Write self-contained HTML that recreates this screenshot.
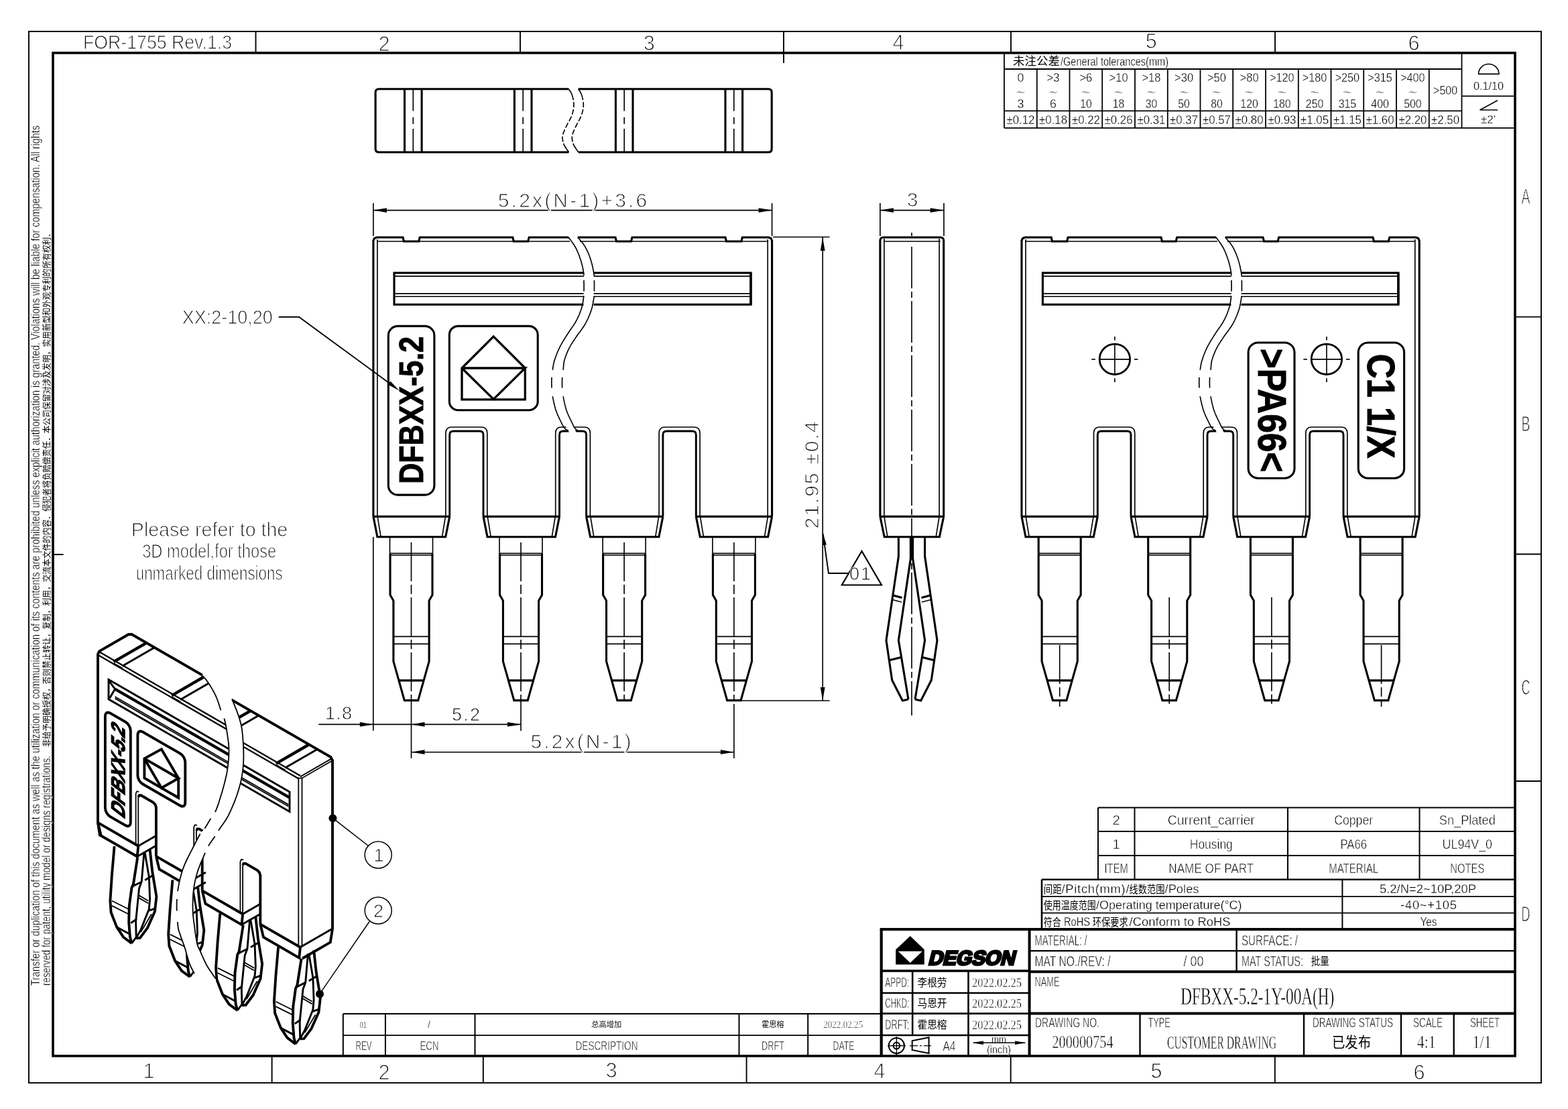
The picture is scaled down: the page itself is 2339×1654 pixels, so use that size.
<!DOCTYPE html>
<html><head><meta charset="utf-8"><title>DFBXX-5.2-1Y-00A(H)</title>
<style>
html,body{margin:0;padding:0;background:#fff}
svg{display:block;filter:grayscale(1)}
svg line,svg path,svg rect,svg circle,svg polyline{fill:none;stroke:#000;stroke-linecap:butt;stroke-linejoin:miter}
svg .f{fill:#000;stroke:none}
svg .w{fill:#fff;stroke:none}
svg defs path{fill:#000;stroke:inherit;stroke-width:inherit}
svg .c{stroke:none}
svg text{font-family:"Liberation Sans",sans-serif;fill:#000;stroke:#fff;paint-order:fill stroke}
svg text.s{font-family:"Liberation Serif",serif}
svg text.b{font-weight:bold;stroke:#000;stroke-width:1px;paint-order:normal}
svg text.cj{font-family:"Liberation Sans","Noto Sans CJK SC",sans-serif;stroke:none}
</style></head><body>
<svg width="2339" height="1654" viewBox="0 0 2339 1654">
<rect x="43" y="46.9" width="2256" height="1568.1" rx="0" stroke-width="1.9"/>
<rect x="79" y="78.9" width="2181" height="1496" rx="0" stroke-width="3.6"/>
<line x1="381.5" y1="46.9" x2="381.5" y2="78.9" stroke-width="1.9"/>
<line x1="776" y1="46.9" x2="776" y2="78.9" stroke-width="1.9"/>
<line x1="1169" y1="46.9" x2="1169" y2="78.9" stroke-width="1.9"/>
<line x1="1508" y1="46.9" x2="1508" y2="78.9" stroke-width="1.9"/>
<line x1="1902" y1="46.9" x2="1902" y2="78.9" stroke-width="1.9"/>
<line x1="1169" y1="78.9" x2="1169" y2="94" stroke-width="1.9"/>
<line x1="405.6" y1="1574.9" x2="405.6" y2="1614.9" stroke-width="1.9"/>
<line x1="720.8" y1="1574.9" x2="720.8" y2="1614.9" stroke-width="1.9"/>
<line x1="1113.6" y1="1574.9" x2="1113.6" y2="1614.9" stroke-width="1.9"/>
<line x1="1507.7" y1="1574.9" x2="1507.7" y2="1614.9" stroke-width="1.9"/>
<line x1="1901.8" y1="1574.9" x2="1901.8" y2="1614.9" stroke-width="1.9"/>
<line x1="2260" y1="472.6" x2="2299.1" y2="472.6" stroke-width="1.9"/>
<line x1="2260" y1="826.5" x2="2299.1" y2="826.5" stroke-width="1.9"/>
<line x1="2260" y1="1165" x2="2299.1" y2="1165" stroke-width="1.9"/>
<line x1="79" y1="827" x2="94.6" y2="827" stroke-width="1.9"/>
<text class="t" x="124" y="72.7" font-size="30.4" stroke-width="1.15" textLength="222" lengthAdjust="spacingAndGlyphs">FOR-1755 Rev.1.3</text>
<text class="t" x="573" y="75.8" font-size="30.7" stroke-width="1.15" text-anchor="middle">2</text>
<text class="t" x="968.3" y="74.8" font-size="30.7" stroke-width="1.15" text-anchor="middle">3</text>
<text class="t" x="1340" y="73.8" font-size="30.7" stroke-width="1.15" text-anchor="middle">4</text>
<text class="t" x="1717.4" y="71.8" font-size="30.7" stroke-width="1.15" text-anchor="middle">5</text>
<text class="t" x="2109" y="74.8" font-size="30.7" stroke-width="1.15" text-anchor="middle">6</text>
<text class="t" x="222" y="1607.8" font-size="30.7" stroke-width="1.15" text-anchor="middle">1</text>
<text class="t" x="573" y="1609.8" font-size="30.7" stroke-width="1.15" text-anchor="middle">2</text>
<text class="t" x="912" y="1606.8" font-size="30.7" stroke-width="1.15" text-anchor="middle">3</text>
<text class="t" x="1312" y="1607.8" font-size="30.7" stroke-width="1.15" text-anchor="middle">4</text>
<text class="t" x="1725" y="1607.8" font-size="30.7" stroke-width="1.15" text-anchor="middle">5</text>
<text class="t" x="2117" y="1609.8" font-size="30.7" stroke-width="1.15" text-anchor="middle">6</text>
<text class="t" x="2276" y="303.8" font-size="30.7" stroke-width="1.15" text-anchor="middle" textLength="13" lengthAdjust="spacingAndGlyphs">A</text>
<text class="t" x="2276" y="642.8" font-size="30.7" stroke-width="1.15" text-anchor="middle" textLength="13" lengthAdjust="spacingAndGlyphs">B</text>
<text class="t" x="2276" y="1035.8" font-size="30.7" stroke-width="1.15" text-anchor="middle" textLength="13" lengthAdjust="spacingAndGlyphs">C</text>
<text class="t" x="2276" y="1373.8" font-size="30.7" stroke-width="1.15" text-anchor="middle" textLength="13" lengthAdjust="spacingAndGlyphs">D</text>
<text class="t n" transform="translate(52.8 1470) rotate(-90)" x="0" y="6.2" font-size="17.9" stroke-width="0.3" textLength="1283" lengthAdjust="spacingAndGlyphs">Transfer or duplication of this document as well as the utilization or communication of its contents are prohibited unless explicit authorization is granted. Violations will be liable for compensation. All rights</text>
<text class="t n" transform="translate(69.2 1470) rotate(-90)" x="0" y="6.2" font-size="17.9" stroke-width="0.3" textLength="343" lengthAdjust="spacingAndGlyphs">reserved for patent, utility model or designs registrations.</text>
<path d="M848.4 132.7 H565.1 Q560.1 132.7 560.1 137.7 V222 Q560.1 227 565.1 227 H848.4" stroke-width="3.1"/>
<path d="M862.7 132.7 H1146.2 Q1151.2 132.7 1151.2 137.7 V222 Q1151.2 227 1146.2 227 H862.7" stroke-width="3.1"/>
<line x1="603.5" y1="132.7" x2="603.5" y2="227" stroke-width="3.1"/>
<line x1="629.1" y1="132.7" x2="629.1" y2="227" stroke-width="3.1"/>
<line x1="616.3" y1="133.7" x2="616.3" y2="165.6" stroke-width="1.65"/>
<line x1="616.3" y1="174.8" x2="616.3" y2="185.1" stroke-width="1.65"/>
<line x1="616.3" y1="192" x2="616.3" y2="226" stroke-width="1.65"/>
<line x1="767.4" y1="132.7" x2="767.4" y2="227" stroke-width="3.1"/>
<line x1="793" y1="132.7" x2="793" y2="227" stroke-width="3.1"/>
<line x1="780.2" y1="133.7" x2="780.2" y2="165.6" stroke-width="1.65"/>
<line x1="780.2" y1="174.8" x2="780.2" y2="185.1" stroke-width="1.65"/>
<line x1="780.2" y1="192" x2="780.2" y2="226" stroke-width="1.65"/>
<line x1="918.4" y1="132.7" x2="918.4" y2="227" stroke-width="3.1"/>
<line x1="944" y1="132.7" x2="944" y2="227" stroke-width="3.1"/>
<line x1="931.2" y1="133.7" x2="931.2" y2="165.6" stroke-width="1.65"/>
<line x1="931.2" y1="174.8" x2="931.2" y2="185.1" stroke-width="1.65"/>
<line x1="931.2" y1="192" x2="931.2" y2="226" stroke-width="1.65"/>
<line x1="1082" y1="132.7" x2="1082" y2="227" stroke-width="3.1"/>
<line x1="1107.6" y1="132.7" x2="1107.6" y2="227" stroke-width="3.1"/>
<line x1="1094.8" y1="133.7" x2="1094.8" y2="165.6" stroke-width="1.65"/>
<line x1="1094.8" y1="174.8" x2="1094.8" y2="185.1" stroke-width="1.65"/>
<line x1="1094.8" y1="192" x2="1094.8" y2="226" stroke-width="1.65"/>
<path d="M848.4 132.7 L848.6 133 L848.8 133.4 L849.1 133.8 L849.4 134.2 L849.7 134.7 L850.1 135.3 L850.4 135.8 L850.8 136.4 L851.2 137 L851.6 137.7 L851.9 138.4 L852.3 139.1 L852.6 139.8 L853 140.5 L853.2 141.2 L853.5 142 L853.7 142.8 L854 143.6 L854.2 144.5 L854.4 145.3 L854.7 146.3 L854.9 147.2 L855.1 148.2 L855.3 149.1" stroke-width="1.65"/>
<path d="M840.7 214 L840.9 214.7 L841.2 215.3 L841.5 216 L841.8 216.7 L842.2 217.4 L842.6 218.2 L843.1 218.9 L843.6 219.7 L844.1 220.5 L844.6 221.3 L845.1 222.1 L845.6 222.9 L846.1 223.6 L846.6 224.3 L847.1 225 L847.5 225.6 L847.8 226.1 L848.2 226.6 L848.4 227" stroke-width="1.65"/>
<path d="M855.7 152.1 L855.8 153.1 L855.9 154.1 L856 155.1 L856 156.1 L856 157 L856 157.9 L855.9 158.9 L855.8 159.8 L855.7 160.8 L855.6 161.7 L855.5 162.7 L855.3 163.6 L855.1 164.6 L854.9 165.5 L854.7 166.4 L854.4 167.4 L854.2 168.3 L853.9 169.2 L853.6 170.2 L853.3 171.1 L853 172 L852.7 172.9 L852.3 173.8 L851.9 174.7 L851.5 175.6 L851.1 176.5 L850.6 177.4 L850.1 178.3 L849.7 179.2 L849.2 180.1 L848.7 180.9 L848.2 181.8 L847.7 182.7 L847.3 183.5 L846.8 184.4 L846.4 185.2 L846 186 L845.6 186.8 L845.2 187.6 L844.8 188.4 L844.4 189.2 L844 190 L843.7 190.8 L843.3 191.6 L842.9 192.4 L842.5 193.1 L842.2 193.9 L841.9 194.6 L841.6 195.3 L841.3 196 L841 196.7 L840.7 197.4 L840.5 198 L840.3 198.6 L840.1 199.2 L839.9 199.7 L839.8 200.2 L839.6 200.7 L839.5 201.2 L839.4 201.7 L839.2 202.1 L839.2 202.6 L839.1 203 L839 203.5 L839 204 L839 204.4 L839 204.9 L839 205.5 L839 206 L839 206.6 L839.1 207.1 L839.2 207.7 L839.2 208.3 L839.3 208.9 L839.5 209.6 L839.6 210.2 L839.7 210.8 L839.9 211.4" stroke-width="1.65" stroke-dasharray="8 3"/>
<path d="M862.7 132.7 L862.9 133 L863.1 133.4 L863.4 133.8 L863.7 134.2 L864 134.7 L864.4 135.3 L864.7 135.8 L865.1 136.4 L865.5 137 L865.9 137.7 L866.2 138.4 L866.6 139.1 L866.9 139.8 L867.3 140.5 L867.5 141.2 L867.8 142 L868 142.8 L868.3 143.6 L868.5 144.5 L868.7 145.3 L869 146.3 L869.2 147.2 L869.4 148.2 L869.6 149.1" stroke-width="1.65"/>
<path d="M855 214 L855.2 214.7 L855.5 215.3 L855.8 216 L856.1 216.7 L856.5 217.4 L856.9 218.2 L857.4 218.9 L857.9 219.7 L858.4 220.5 L858.9 221.3 L859.4 222.1 L859.9 222.9 L860.4 223.6 L860.9 224.3 L861.4 225 L861.8 225.6 L862.1 226.1 L862.5 226.6 L862.7 227" stroke-width="1.65"/>
<path d="M870 152.1 L870.1 153.1 L870.2 154.1 L870.3 155.1 L870.3 156.1 L870.3 157 L870.3 157.9 L870.2 158.9 L870.1 159.8 L870 160.8 L869.9 161.7 L869.8 162.7 L869.6 163.6 L869.4 164.6 L869.2 165.5 L869 166.4 L868.7 167.4 L868.5 168.3 L868.2 169.2 L867.9 170.2 L867.6 171.1 L867.3 172 L867 172.9 L866.6 173.8 L866.2 174.7 L865.8 175.6 L865.4 176.5 L864.9 177.4 L864.4 178.3 L864 179.2 L863.5 180.1 L863 180.9 L862.5 181.8 L862 182.7 L861.6 183.5 L861.1 184.4 L860.7 185.2 L860.3 186 L859.9 186.8 L859.5 187.6 L859.1 188.4 L858.7 189.2 L858.3 190 L858 190.8 L857.6 191.6 L857.2 192.4 L856.8 193.1 L856.5 193.9 L856.2 194.6 L855.9 195.3 L855.6 196 L855.3 196.7 L855 197.4 L854.8 198 L854.6 198.6 L854.4 199.2 L854.2 199.7 L854 200.2 L853.9 200.7 L853.8 201.2 L853.7 201.7 L853.5 202.1 L853.5 202.6 L853.4 203 L853.3 203.5 L853.3 204 L853.3 204.4 L853.3 204.9 L853.3 205.5 L853.3 206 L853.3 206.6 L853.4 207.1 L853.5 207.7 L853.5 208.3 L853.6 208.9 L853.8 209.6 L853.9 210.2 L854 210.8 L854.2 211.4" stroke-width="1.65" stroke-dasharray="8 3"/>
<path d="M556.9 359 L558.4 355.5 L561.9 354 L601 354 L602.5 360 L624.7 360 L626.2 354 L764.8 354 L766.3 360 L787.7 360 L789.2 354 L848 354" stroke-width="3.1"/>
<path d="M861.8 354 L918 354 L919.5 360 L941.5 360 L943 354 L1082 354 L1083.5 360 L1105.9 360 L1107.4 354 L1146.6 354 L1150.1 355.5 L1151.6 359" stroke-width="3.1"/>
<line x1="562.9" y1="360" x2="850" y2="360" stroke-width="1.65"/>
<line x1="864.8" y1="360" x2="1145.2" y2="360" stroke-width="1.65"/>
<line x1="556.9" y1="358" x2="556.9" y2="770.4" stroke-width="3.1"/>
<line x1="1151.6" y1="358" x2="1151.6" y2="770.4" stroke-width="3.1"/>
<line x1="562.9" y1="357" x2="562.9" y2="770.4" stroke-width="1.65"/>
<line x1="1145.2" y1="357" x2="1145.2" y2="770.4" stroke-width="1.65"/>
<path d="M670.7 770.4 V648.5 Q670.7 643 676.2 643 H715.5 Q721 643 721 648.5 V770.4" stroke-width="2.9"/>
<path d="M664.9 770.4 V646 Q664.9 637 673.9 637 H717.8 Q726.8 637 726.8 646 V770.4" stroke-width="1.65"/>
<path d="M834.5 770.4 V648.5 Q834.5 643 840 643 H869.1 Q874.6 643 874.6 648.5 V770.4" stroke-width="2.9"/>
<path d="M828.7 770.4 V646 Q828.7 637 837.7 637 H871.4 Q880.4 637 880.4 646 V770.4" stroke-width="1.65"/>
<path d="M988.9 770.4 V648.5 Q988.9 643 994.4 643 H1032.8 Q1038.3 643 1038.3 648.5 V770.4" stroke-width="2.9"/>
<path d="M983.1 770.4 V646 Q983.1 637 992.1 637 H1035.1 Q1044.1 637 1044.1 646 V770.4" stroke-width="1.65"/>
<path d="M556.9 770.4 L562.9 800.7 L664.7 800.7 L670.7 770.4" stroke-width="3.1"/>
<line x1="556.9" y1="770.4" x2="670.7" y2="770.4" stroke-width="3.1"/>
<line x1="563.1" y1="770.4" x2="568.1" y2="800.7" stroke-width="1.65"/>
<line x1="664.5" y1="770.4" x2="659.5" y2="800.7" stroke-width="1.65"/>
<path d="M721 770.4 L727 800.7 L828.5 800.7 L834.5 770.4" stroke-width="3.1"/>
<line x1="721" y1="770.4" x2="834.5" y2="770.4" stroke-width="3.1"/>
<line x1="727.2" y1="770.4" x2="732.2" y2="800.7" stroke-width="1.65"/>
<line x1="828.3" y1="770.4" x2="823.3" y2="800.7" stroke-width="1.65"/>
<path d="M874.6 770.4 L880.6 800.7 L982.9 800.7 L988.9 770.4" stroke-width="3.1"/>
<line x1="874.6" y1="770.4" x2="988.9" y2="770.4" stroke-width="3.1"/>
<line x1="880.8" y1="770.4" x2="885.8" y2="800.7" stroke-width="1.65"/>
<line x1="982.7" y1="770.4" x2="977.7" y2="800.7" stroke-width="1.65"/>
<path d="M1038.3 770.4 L1044.3 800.7 L1145.6 800.7 L1151.6 770.4" stroke-width="3.1"/>
<line x1="1038.3" y1="770.4" x2="1151.6" y2="770.4" stroke-width="3.1"/>
<line x1="1044.5" y1="770.4" x2="1049.5" y2="800.7" stroke-width="1.65"/>
<line x1="1145.4" y1="770.4" x2="1140.4" y2="800.7" stroke-width="1.65"/>
<rect x="588" y="407" width="532.1" height="47.2" rx="0" stroke-width="3.1"/>
<line x1="1119.9" y1="407" x2="1119.9" y2="454.2" stroke-width="3.4"/>
<line x1="588" y1="411.8" x2="1120.1" y2="411.8" stroke-width="1.65"/>
<line x1="588" y1="437.8" x2="1120.1" y2="437.8" stroke-width="1.65"/>
<line x1="588" y1="442.2" x2="1120.1" y2="442.2" stroke-width="1.65"/>
<path class="w" d="M871.2 400 L885.6 400 L885.6 460 L870.4 460 Z"/>
<path class="w" d="M842.3 633 L853.3 633 L860.6 646.5 L850 646.5 Z"/>
<path d="M848 353.8 L848.4 354.3 L848.9 355 L849.4 355.7 L850 356.5 L850.7 357.4 L851.4 358.4 L852.1 359.4 L852.9 360.5 L853.7 361.6 L854.5 362.7 L855.3 363.8 L856.1 365 L856.8 366.2 L857.5 367.3 L858.2 368.5 L858.8 369.6 L859.4 370.7 L860 371.9 L860.5 373.1 L861.1 374.3 L861.6 375.5 L862.2 376.8 L862.7 378.1 L863.2 379.3 L863.7 380.6 L864.2 381.9 L864.6 383.2 L865.1 384.4 L865.5 385.7 L865.9 386.9 L866.3 388.1 L866.7 389.3 L867.1 390.5 L867.4 391.7 L867.7 392.8 L868 394 L868.3 395.2 L868.6 396.4 L868.9 397.5 L869.1 398.7 L869.4 399.8 L869.6 400.9 L869.8 402 L870 403.1 L870.1 404.1 L870.3 405.1 L870.5 406.1 L870.6 407 L870.7 407.9 L870.8 408.7 L870.9 409.4 L871 410.1 L871 410.7" stroke-width="1.65"/>
<path d="M871 418 L871 418.9 L871 419.8 L871 420.8 L871 421.9 L871.1 422.9 L871.1 424 L871.1 425.1 L871.1 426.2 L871.1 427.4 L871.1 428.5 L871.1 429.6 L871.1 430.7 L871.1 431.7 L871 432.7 L871 433.7 L871 434.6" stroke-width="1.65"/>
<path d="M870.8 441.2 L870.7 441.9 L870.7 442.6 L870.6 443.3 L870.5 444 L870.4 444.8 L870.3 445.6 L870.2 446.4 L870.1 447.3 L869.9 448.2 L869.8 449.1 L869.6 450 L869.5 451 L869.3 451.9 L869.1 452.9 L868.9 453.9 L868.7 454.9 L868.5 456 L868.2 457 L867.9 458 L867.7 459.1 L867.4 460.1 L867 461.2 L866.7 462.2 L866.3 463.3 L865.9 464.3 L865.5 465.4 L865.1 466.5 L864.7 467.6 L864.2 468.7 L863.8 469.8 L863.3 470.9 L862.8 472.1 L862.2 473.2 L861.7 474.3 L861.2 475.4 L860.6 476.6 L860 477.7 L859.4 478.8 L858.8 479.9 L858.2 481 L857.5 482.1 L856.8 483.2 L856.1 484.3 L855.4 485.4 L854.7 486.4 L853.9 487.5 L853.1 488.6 L852.4 489.7 L851.6 490.8 L850.8 491.9 L850 493 L849.3 494.2 L848.5 495.3 L847.7 496.4 L847 497.6 L846.3 498.8 L845.5 500 L844.7 501.2 L844 502.4 L843.2 503.6 L842.4 504.8 L841.6 506.1 L840.9 507.3 L840.1 508.6 L839.3 509.8 L838.6 511.1 L837.9 512.3 L837.2 513.6 L836.5 514.8 L835.8 516.1 L835.2 517.3 L834.6 518.5 L834 519.8 L833.4 521.1 L832.8 522.3 L832.3 523.6 L831.7 524.9 L831.2 526.2 L830.7 527.5 L830.2 528.7 L829.7 530 L829.3 531.2 L828.8 532.4 L828.4 533.6 L828 534.8 L827.7 535.9 L827.3 537 L827 538.1 L826.7 539.1 L826.4 540.1 L826.2 541.1 L825.9 542.1 L825.7 543.1 L825.6 544 L825.4 544.9 L825.2 545.9 L825.1 546.8 L824.9 547.6 L824.8 548.5 L824.7 549.3 L824.6 550.2 L824.4 551 L824.3 551.8" stroke-width="1.65"/>
<path d="M823 562.7 L823 563.6 L822.9 564.5 L822.9 565.4 L822.9 566.4 L822.9 567.3 L822.8 568.4 L822.8 569.4 L822.8 570.4 L822.8 571.5 L822.8 572.5 L822.9 573.5 L822.9 574.6 L822.9 575.6 L822.9 576.5 L823 577.5 L823 578.4" stroke-width="1.65"/>
<path d="M824.3 591.2 L824.5 592.3 L824.7 593.4 L825 594.6 L825.2 595.9 L825.5 597.2 L825.8 598.5 L826.1 599.9 L826.4 601.2 L826.7 602.6 L827.1 604 L827.4 605.4 L827.8 606.7 L828.1 608.1 L828.5 609.4 L828.9 610.7 L829.3 611.9 L829.7 613.1 L830.2 614.3 L830.6 615.5 L831.1 616.8 L831.6 618 L832.1 619.2 L832.6 620.3 L833.2 621.5 L833.7 622.7 L834.2 623.8 L834.7 624.9 L835.3 625.9 L835.7 626.9 L836.2 627.9 L836.7 628.8 L837.1 629.7 L837.5 630.5 L837.9 631.3 L838.3 632.1 L838.6 632.8 L839 633.4 L839.3 634.1 L839.6 634.7 L839.9 635.2 L840.3 635.8 L840.6 636.3 L840.9 636.8 L841.2 637.3 L841.5 637.7 L841.8 638.2 L842.2 638.6 L842.5 639 L842.9 639.4 L843.2 639.7 L843.6 640.1 L844 640.4 L844.4 640.6 L844.8 640.9 L845.2 641.1 L845.6 641.3 L846 641.5 L846.3 641.7 L846.7 641.9 L847 642 L847.3 642.1 L847.6 642.3 L847.8 642.4 L848 642.5" stroke-width="1.65"/>
<path d="M861.8 353.8 L862.2 354.3 L862.7 354.8 L863.2 355.5 L863.8 356.2 L864.5 357 L865.2 357.8 L865.9 358.7 L866.7 359.6 L867.5 360.5 L868.3 361.5 L869.1 362.5 L869.9 363.6 L870.6 364.6 L871.3 365.6 L872 366.6 L872.6 367.6 L873.2 368.6 L873.7 369.6 L874.3 370.6 L874.8 371.7 L875.4 372.8 L875.9 373.9 L876.4 375 L876.9 376.1 L877.4 377.2 L877.9 378.3 L878.4 379.5 L878.8 380.6 L879.2 381.8 L879.7 383 L880.1 384.1 L880.5 385.3 L880.9 386.5 L881.3 387.7 L881.7 389 L882 390.2 L882.4 391.5 L882.7 392.8 L883.1 394.1 L883.4 395.4 L883.7 396.7 L884 398 L884.3 399.3 L884.5 400.5 L884.8 401.7 L885 402.8 L885.2 403.9 L885.4 405 L885.6 406 L885.7 406.9 L885.8 407.8 L885.9 408.6 L886 409.4 L886.1 410.2 L886.2 411" stroke-width="1.65"/>
<path d="M886.4 418 L886.4 418.9 L886.5 419.9 L886.5 420.9 L886.5 422 L886.5 423 L886.5 424.1 L886.5 425.2 L886.5 426.3 L886.5 427.4 L886.5 428.5 L886.5 429.6 L886.5 430.6 L886.5 431.7 L886.5 432.7 L886.4 433.7 L886.4 434.6" stroke-width="1.65"/>
<path d="M886.1 441.7 L886 442.5 L886 443.2 L885.9 444 L885.8 444.8 L885.7 445.6 L885.5 446.5 L885.4 447.4 L885.2 448.3 L885.1 449.3 L884.9 450.2 L884.7 451.2 L884.6 452.2 L884.4 453.2 L884.2 454.3 L883.9 455.3 L883.7 456.4 L883.5 457.4 L883.2 458.5 L882.9 459.6 L882.6 460.7 L882.2 461.8 L881.9 463 L881.5 464.1 L881.1 465.2 L880.7 466.4 L880.2 467.6 L879.7 468.8 L879.3 470 L878.7 471.3 L878.2 472.5 L877.7 473.8 L877.1 475 L876.5 476.3 L875.9 477.5 L875.3 478.8 L874.6 480.1 L874 481.3 L873.3 482.6 L872.6 483.8 L871.9 485 L871.1 486.3 L870.3 487.5 L869.4 488.8 L868.5 490.1 L867.6 491.4 L866.7 492.6 L865.8 493.9 L864.8 495.2 L863.9 496.4 L863 497.6 L862.1 498.8 L861.2 500 L860.4 501.2 L859.6 502.4 L858.8 503.5 L858.1 504.6 L857.4 505.6 L856.7 506.7 L856 507.7 L855.3 508.7 L854.7 509.6 L854.1 510.6 L853.5 511.5 L852.9 512.5 L852.3 513.4 L851.7 514.4 L851.2 515.3 L850.6 516.3 L850.1 517.3 L849.5 518.3 L849 519.3 L848.5 520.4 L848 521.4 L847.4 522.5 L846.9 523.7 L846.4 524.8 L845.9 525.9 L845.5 527.1 L845 528.2 L844.6 529.4 L844.1 530.5 L843.7 531.6 L843.3 532.7 L843 533.8 L842.6 534.9 L842.3 536 L842 537 L841.7 538 L841.5 539 L841.3 540 L841.2 541 L841 542 L840.9 542.9 L840.8 543.9 L840.7 544.8 L840.6 545.8 L840.6 546.7 L840.5 547.6 L840.4 548.4 L840.4 549.3 L840.3 550.2 L840.2 551 L840.1 551.8" stroke-width="1.65"/>
<path d="M838.7 562.7 L838.7 563.6 L838.6 564.5 L838.6 565.4 L838.6 566.4 L838.5 567.3 L838.5 568.4 L838.5 569.4 L838.5 570.4 L838.5 571.5 L838.5 572.5 L838.5 573.5 L838.6 574.6 L838.6 575.6 L838.6 576.5 L838.7 577.5 L838.7 578.4" stroke-width="1.65"/>
<path d="M840.1 591.2 L840.3 592.3 L840.5 593.4 L840.8 594.6 L841 595.9 L841.3 597.2 L841.5 598.5 L841.8 599.9 L842.1 601.2 L842.5 602.6 L842.8 604 L843.1 605.4 L843.5 606.7 L843.8 608.1 L844.2 609.4 L844.6 610.7 L845 611.9 L845.4 613.1 L845.9 614.3 L846.3 615.5 L846.8 616.8 L847.4 618 L847.9 619.2 L848.4 620.4 L849 621.5 L849.5 622.7 L850 623.8 L850.6 624.9 L851.1 626 L851.6 627 L852 627.9 L852.5 628.8 L852.9 629.7 L853.3 630.5 L853.6 631.3 L854 632 L854.3 632.6 L854.6 633.3 L854.9 633.9 L855.2 634.4 L855.4 635 L855.7 635.5 L855.9 635.9 L856.2 636.4 L856.4 636.8 L856.7 637.3 L857 637.7 L857.2 638.1 L857.5 638.5 L857.8 638.9 L858.1 639.3 L858.4 639.6 L858.7 639.9 L859 640.2 L859.3 640.5 L859.6 640.8 L859.9 641 L860.2 641.3 L860.5 641.5 L860.8 641.7 L861 641.9 L861.3 642.1 L861.5 642.2 L861.6 642.4 L861.8 642.5" stroke-width="1.65"/>
<rect x="579.3" y="486.4" width="68.6" height="251.7" rx="14" stroke-width="3.1"/>
<text class="b" transform="translate(613.6 611.8) rotate(-90)" x="0" y="17.4" font-size="49.9" text-anchor="middle" textLength="220" lengthAdjust="spacingAndGlyphs">DFBXX-5.2</text>
<rect x="670.3" y="486.4" width="131.9" height="125.3" rx="13" stroke-width="3.1"/>
<path d="M736.2 501.9 L783.3 549 L783.3 595.9 L689 595.9 L689 549Z" stroke-width="3.3000000000000003"/>
<path d="M689 549 L783.3 549 L736.2 595.5 L689 549" stroke-width="3.3000000000000003"/>
<line x1="581.5" y1="800.7" x2="581.5" y2="825.4" stroke-width="1.65"/>
<line x1="645.5" y1="800.7" x2="645.5" y2="825.4" stroke-width="1.65"/>
<line x1="582" y1="825.4" x2="645" y2="825.4" stroke-width="1.65"/>
<line x1="582" y1="828" x2="645" y2="828" stroke-width="1.65"/>
<path d="M582 825.4 L582 887.4 L586.9 895.8 L586.9 986.3 L603.3 1044.6 L623.7 1044.6 L640.1 986.3 L640.1 895.8 L645 887.4 L645 825.4" stroke-width="3.1"/>
<line x1="586.9" y1="949.4" x2="640.1" y2="949.4" stroke-width="1.65"/>
<line x1="586.9" y1="960.4" x2="640.1" y2="960.4" stroke-width="1.65"/>
<line x1="594.9" y1="1014.9" x2="632.1" y2="1014.9" stroke-width="3.1"/>
<line x1="613.5" y1="809" x2="613.5" y2="1046" stroke-width="1.65" stroke-dasharray="58 5 14 5"/>
<line x1="745" y1="800.7" x2="745" y2="825.4" stroke-width="1.65"/>
<line x1="809" y1="800.7" x2="809" y2="825.4" stroke-width="1.65"/>
<line x1="745.5" y1="825.4" x2="808.5" y2="825.4" stroke-width="1.65"/>
<line x1="745.5" y1="828" x2="808.5" y2="828" stroke-width="1.65"/>
<path d="M745.5 825.4 L745.5 887.4 L750.4 895.8 L750.4 986.3 L766.8 1044.6 L787.2 1044.6 L803.6 986.3 L803.6 895.8 L808.5 887.4 L808.5 825.4" stroke-width="3.1"/>
<line x1="750.4" y1="949.4" x2="803.6" y2="949.4" stroke-width="1.65"/>
<line x1="750.4" y1="960.4" x2="803.6" y2="960.4" stroke-width="1.65"/>
<line x1="758.4" y1="1014.9" x2="795.6" y2="1014.9" stroke-width="3.1"/>
<line x1="777" y1="809" x2="777" y2="1046" stroke-width="1.65" stroke-dasharray="58 5 14 5"/>
<line x1="899.1" y1="800.7" x2="899.1" y2="825.4" stroke-width="1.65"/>
<line x1="963.1" y1="800.7" x2="963.1" y2="825.4" stroke-width="1.65"/>
<line x1="899.6" y1="825.4" x2="962.6" y2="825.4" stroke-width="1.65"/>
<line x1="899.6" y1="828" x2="962.6" y2="828" stroke-width="1.65"/>
<path d="M899.6 825.4 L899.6 887.4 L904.5 895.8 L904.5 986.3 L920.9 1044.6 L941.3 1044.6 L957.7 986.3 L957.7 895.8 L962.6 887.4 L962.6 825.4" stroke-width="3.1"/>
<line x1="904.5" y1="949.4" x2="957.7" y2="949.4" stroke-width="1.65"/>
<line x1="904.5" y1="960.4" x2="957.7" y2="960.4" stroke-width="1.65"/>
<line x1="912.5" y1="1014.9" x2="949.7" y2="1014.9" stroke-width="3.1"/>
<line x1="931.1" y1="809" x2="931.1" y2="1046" stroke-width="1.65" stroke-dasharray="58 5 14 5"/>
<line x1="1062.9" y1="800.7" x2="1062.9" y2="825.4" stroke-width="1.65"/>
<line x1="1126.9" y1="800.7" x2="1126.9" y2="825.4" stroke-width="1.65"/>
<line x1="1063.4" y1="825.4" x2="1126.4" y2="825.4" stroke-width="1.65"/>
<line x1="1063.4" y1="828" x2="1126.4" y2="828" stroke-width="1.65"/>
<path d="M1063.4 825.4 L1063.4 887.4 L1068.3 895.8 L1068.3 986.3 L1084.7 1044.6 L1105.1 1044.6 L1121.5 986.3 L1121.5 895.8 L1126.4 887.4 L1126.4 825.4" stroke-width="3.1"/>
<line x1="1068.3" y1="949.4" x2="1121.5" y2="949.4" stroke-width="1.65"/>
<line x1="1068.3" y1="960.4" x2="1121.5" y2="960.4" stroke-width="1.65"/>
<line x1="1076.3" y1="1014.9" x2="1113.5" y2="1014.9" stroke-width="3.1"/>
<line x1="1094.9" y1="809" x2="1094.9" y2="1046" stroke-width="1.65" stroke-dasharray="58 5 14 5"/>
<line x1="556.9" y1="303" x2="556.9" y2="352" stroke-width="1.65"/>
<line x1="1151.6" y1="303" x2="1151.6" y2="352" stroke-width="1.65"/>
<line x1="556.9" y1="313.6" x2="1151.6" y2="313.6" stroke-width="1.65"/>
<path class="f" d="M556.9 313.6L576.9 310.2L576.9 317Z"/>
<path class="f" d="M1151.6 313.6L1131.6 317L1131.6 310.2Z"/>
<text class="t" x="854" y="308.5" font-size="30" stroke-width="1.15" text-anchor="middle" textLength="222.5" lengthAdjust="spacing">5.2x(N-1)+3.6</text>
<line x1="1153" y1="353.5" x2="1237.6" y2="353.5" stroke-width="1.65"/>
<line x1="1104.5" y1="1045" x2="1237.6" y2="1045" stroke-width="1.65"/>
<line x1="1227.2" y1="354" x2="1227.2" y2="1045" stroke-width="1.65"/>
<path class="f" d="M1227.2 354L1230.6 374L1223.8 374Z"/>
<path class="f" d="M1227.2 1045L1223.8 1025L1230.6 1025Z"/>
<text class="t" transform="translate(1210.5 708.5) rotate(-90)" x="0" y="10.5" font-size="30" stroke-width="1.15" text-anchor="middle" textLength="160" lengthAdjust="spacing">21.95 ±0.4</text>
<path d="M1227.6 796 L1236 855 L1266 855" stroke-width="1.9"/>
<path class="f" d="M1227.4 795L1232.9 812.4L1226.9 813.2Z"/>
<path d="M1285.5 822 L1255.8 872.5 L1315 872.5Z" stroke-width="2.2"/>
<text class="t" x="1283" y="865" font-size="27.1" stroke-width="0.9" text-anchor="middle" textLength="32" lengthAdjust="spacing">01</text>
<line x1="556.8" y1="800.7" x2="556.8" y2="1089.7" stroke-width="1.65"/>
<line x1="475.4" y1="1080.4" x2="777" y2="1080.4" stroke-width="1.65"/>
<path class="f" d="M556.8 1080.4L536.8 1083.8L536.8 1077Z"/>
<path class="f" d="M613.5 1080.4L633.5 1077L633.5 1083.8Z"/>
<path class="f" d="M777 1080.4L757 1083.8L757 1077Z"/>
<text class="t" x="505" y="1073.3" font-size="27.1" stroke-width="0.9" text-anchor="middle" textLength="40" lengthAdjust="spacing">1.8</text>
<text class="t" x="695" y="1074.5" font-size="27.1" stroke-width="0.9" text-anchor="middle" textLength="42" lengthAdjust="spacing">5.2</text>
<line x1="613.5" y1="1046" x2="613.5" y2="1131" stroke-width="1.65"/>
<line x1="777" y1="1046" x2="777" y2="1090" stroke-width="1.65"/>
<line x1="1094.9" y1="1050" x2="1094.9" y2="1131" stroke-width="1.65"/>
<line x1="613.5" y1="1121.7" x2="1094.9" y2="1121.7" stroke-width="1.65"/>
<path class="f" d="M613.5 1121.7L633.5 1118.3L633.5 1125.1Z"/>
<path class="f" d="M1094.9 1121.7L1074.9 1125.1L1074.9 1118.3Z"/>
<text class="t" x="866.5" y="1115.8" font-size="30" stroke-width="1.15" text-anchor="middle" textLength="150" lengthAdjust="spacing">5.2x(N-1)</text>
<text class="t" x="271.8" y="483.2" font-size="30" stroke-width="1.15" textLength="135" lengthAdjust="spacingAndGlyphs">XX:2-10,20</text>
<path d="M415.7 472.8 L446 472.8 L590 578.2" stroke-width="1.9"/>
<path class="f" d="M595.5 582.5L578.4 573.6L582.4 568.4Z"/>
<text class="t" x="312.5" y="799.5" font-size="29.3" stroke-width="1.15" text-anchor="middle" textLength="233.3" lengthAdjust="spacingAndGlyphs">Please refer to the</text>
<text class="t" x="312.2" y="831.5" font-size="29.3" stroke-width="1.15" text-anchor="middle" textLength="200" lengthAdjust="spacingAndGlyphs">3D model,for those</text>
<text class="t" x="312.2" y="864.5" font-size="29.3" stroke-width="1.15" text-anchor="middle" textLength="219" lengthAdjust="spacingAndGlyphs">unmarked dimensions</text>
<path d="M1312.9 770.4 V359 Q1312.9 354 1317.9 354 H1402.7 Q1407.7 354 1407.7 359 V770.4" stroke-width="3.1"/>
<line x1="1317.9" y1="360" x2="1402.7" y2="360" stroke-width="1.65"/>
<line x1="1318.9" y1="356" x2="1318.9" y2="770.4" stroke-width="1.65"/>
<line x1="1401.1" y1="356" x2="1401.1" y2="770.4" stroke-width="1.65"/>
<line x1="1312.9" y1="770.4" x2="1407.7" y2="770.4" stroke-width="3.1"/>
<path d="M1312.9 770.4 L1319.2 800.7 L1401.4 800.7 L1407.7 770.4" stroke-width="3.1"/>
<line x1="1318.9" y1="770.4" x2="1323.9" y2="800.7" stroke-width="1.65"/>
<line x1="1401.1" y1="770.4" x2="1396.2" y2="800.7" stroke-width="1.65"/>
<line x1="1360" y1="347" x2="1360" y2="352" stroke-width="1.65"/>
<line x1="1360" y1="368" x2="1360" y2="1067" stroke-width="1.65" stroke-dasharray="62 5 9 5"/>
<line x1="1312.9" y1="303" x2="1312.9" y2="352" stroke-width="1.65"/>
<line x1="1408" y1="303" x2="1408" y2="352" stroke-width="1.65"/>
<line x1="1312.9" y1="313.6" x2="1407.7" y2="313.6" stroke-width="1.65"/>
<path class="f" d="M1312.9 313.6L1332.9 310.2L1332.9 317Z"/>
<path class="f" d="M1407.7 313.6L1387.7 317L1387.7 310.2Z"/>
<text class="t" x="1361" y="308.3" font-size="30" stroke-width="1.15" text-anchor="middle">3</text>
<path d="M1340.4 800.7 L1340.4 829.7 L1322 955 L1330.7 1014.4 L1346.3 1045 L1355 1043" stroke-width="3.1"/>
<path d="M1358.4 800.7 L1358.4 833 L1340.4 955 L1355 1043" stroke-width="3.1"/>
<line x1="1332.5" y1="888" x2="1345.5" y2="891.5" stroke-width="3.1"/>
<line x1="1331.5" y1="894.5" x2="1345.2" y2="898" stroke-width="1.65"/>
<line x1="1325.5" y1="985" x2="1345.5" y2="980" stroke-width="3.1"/>
<path d="M1379.6 800.7 L1379.6 829.7 L1398 955 L1389.3 1014.4 L1373.7 1045 L1365 1043" stroke-width="3.1"/>
<path d="M1361.6 800.7 L1361.6 833 L1379.6 955 L1365 1043" stroke-width="3.1"/>
<line x1="1387.5" y1="888" x2="1374.5" y2="891.5" stroke-width="3.1"/>
<line x1="1388.5" y1="894.5" x2="1374.8" y2="898" stroke-width="1.65"/>
<line x1="1394.5" y1="985" x2="1374.5" y2="980" stroke-width="3.1"/>
<path d="M1524 359 L1525.5 355.5 L1529 354 L1568.1 354 L1569.6 360 L1591.6 360 L1593.1 354 L1732 354 L1733.5 360 L1754.2 360 L1755.7 354 L1813.9 354" stroke-width="3.1"/>
<path d="M1827.7 354 L1884 354 L1885.5 360 L1906.1 360 L1907.6 354 L2048 354 L2049.5 360 L2071.3 360 L2072.8 354 L2112.2 354 L2115.7 355.5 L2117.2 359" stroke-width="3.1"/>
<line x1="1530" y1="360" x2="1815.9" y2="360" stroke-width="1.65"/>
<line x1="1830.7" y1="360" x2="2110.8" y2="360" stroke-width="1.65"/>
<line x1="1524" y1="358" x2="1524" y2="770.4" stroke-width="3.1"/>
<line x1="2117.2" y1="358" x2="2117.2" y2="770.4" stroke-width="3.1"/>
<line x1="1530" y1="357" x2="1530" y2="770.4" stroke-width="1.65"/>
<line x1="2110.8" y1="357" x2="2110.8" y2="770.4" stroke-width="1.65"/>
<path d="M1637.3 770.4 V648.5 Q1637.3 643 1642.8 643 H1681.5 Q1687 643 1687 648.5 V770.4" stroke-width="2.9"/>
<path d="M1631.5 770.4 V646 Q1631.5 637 1640.5 637 H1683.8 Q1692.8 637 1692.8 646 V770.4" stroke-width="1.65"/>
<path d="M1801 770.4 V648.5 Q1801 643 1806.5 643 H1834.2 Q1839.7 643 1839.7 648.5 V770.4" stroke-width="2.9"/>
<path d="M1795.2 770.4 V646 Q1795.2 637 1804.2 637 H1836.5 Q1845.5 637 1845.5 646 V770.4" stroke-width="1.65"/>
<path d="M1953.6 770.4 V648.5 Q1953.6 643 1959.1 643 H1998.5 Q2004 643 2004 648.5 V770.4" stroke-width="2.9"/>
<path d="M1947.8 770.4 V646 Q1947.8 637 1956.8 637 H2000.8 Q2009.8 637 2009.8 646 V770.4" stroke-width="1.65"/>
<path d="M1524 770.4 L1530 800.7 L1631.3 800.7 L1637.3 770.4" stroke-width="3.1"/>
<line x1="1524" y1="770.4" x2="1637.3" y2="770.4" stroke-width="3.1"/>
<line x1="1530.2" y1="770.4" x2="1535.2" y2="800.7" stroke-width="1.65"/>
<line x1="1631.1" y1="770.4" x2="1626.1" y2="800.7" stroke-width="1.65"/>
<path d="M1687 770.4 L1693 800.7 L1795 800.7 L1801 770.4" stroke-width="3.1"/>
<line x1="1687" y1="770.4" x2="1801" y2="770.4" stroke-width="3.1"/>
<line x1="1693.2" y1="770.4" x2="1698.2" y2="800.7" stroke-width="1.65"/>
<line x1="1794.8" y1="770.4" x2="1789.8" y2="800.7" stroke-width="1.65"/>
<path d="M1839.7 770.4 L1845.7 800.7 L1947.6 800.7 L1953.6 770.4" stroke-width="3.1"/>
<line x1="1839.7" y1="770.4" x2="1953.6" y2="770.4" stroke-width="3.1"/>
<line x1="1845.9" y1="770.4" x2="1850.9" y2="800.7" stroke-width="1.65"/>
<line x1="1947.4" y1="770.4" x2="1942.4" y2="800.7" stroke-width="1.65"/>
<path d="M2004 770.4 L2010 800.7 L2111.2 800.7 L2117.2 770.4" stroke-width="3.1"/>
<line x1="2004" y1="770.4" x2="2117.2" y2="770.4" stroke-width="3.1"/>
<line x1="2010.2" y1="770.4" x2="2015.2" y2="800.7" stroke-width="1.65"/>
<line x1="2111" y1="770.4" x2="2106" y2="800.7" stroke-width="1.65"/>
<rect x="1555.4" y="407" width="530.6" height="47.2" rx="0" stroke-width="3.1"/>
<line x1="2085.8" y1="407" x2="2085.8" y2="454.2" stroke-width="3.4"/>
<line x1="1555.4" y1="411.8" x2="2086" y2="411.8" stroke-width="1.65"/>
<line x1="1555.4" y1="437.8" x2="2086" y2="437.8" stroke-width="1.65"/>
<line x1="1555.4" y1="442.2" x2="2086" y2="442.2" stroke-width="1.65"/>
<path class="w" d="M1837.1 400 L1851.5 400 L1851.5 460 L1836.3 460 Z"/>
<path class="w" d="M1808.2 633 L1819.2 633 L1826.5 646.5 L1815.9 646.5 Z"/>
<path d="M1813.9 353.8 L1814.3 354.3 L1814.8 355 L1815.3 355.7 L1815.9 356.5 L1816.6 357.4 L1817.3 358.4 L1818 359.4 L1818.8 360.5 L1819.6 361.6 L1820.4 362.7 L1821.2 363.8 L1822 365 L1822.7 366.2 L1823.4 367.3 L1824.1 368.5 L1824.7 369.6 L1825.3 370.7 L1825.9 371.9 L1826.4 373.1 L1827 374.3 L1827.5 375.5 L1828.1 376.8 L1828.6 378.1 L1829.1 379.3 L1829.6 380.6 L1830.1 381.9 L1830.5 383.2 L1831 384.4 L1831.4 385.7 L1831.8 386.9 L1832.2 388.1 L1832.6 389.3 L1833 390.5 L1833.3 391.7 L1833.6 392.8 L1833.9 394 L1834.2 395.2 L1834.5 396.4 L1834.8 397.5 L1835 398.7 L1835.3 399.8 L1835.5 400.9 L1835.7 402 L1835.9 403.1 L1836 404.1 L1836.2 405.1 L1836.4 406.1 L1836.5 407 L1836.6 407.9 L1836.7 408.7 L1836.8 409.4 L1836.9 410.1 L1836.9 410.7" stroke-width="1.65"/>
<path d="M1836.9 418 L1836.9 418.9 L1836.9 419.8 L1836.9 420.8 L1836.9 421.9 L1837 422.9 L1837 424 L1837 425.1 L1837 426.2 L1837 427.4 L1837 428.5 L1837 429.6 L1837 430.7 L1837 431.7 L1836.9 432.7 L1836.9 433.7 L1836.9 434.6" stroke-width="1.65"/>
<path d="M1836.7 441.2 L1836.6 441.9 L1836.6 442.6 L1836.5 443.3 L1836.4 444 L1836.3 444.8 L1836.2 445.6 L1836.1 446.4 L1836 447.3 L1835.8 448.2 L1835.7 449.1 L1835.5 450 L1835.4 451 L1835.2 451.9 L1835 452.9 L1834.8 453.9 L1834.6 454.9 L1834.4 456 L1834.1 457 L1833.8 458 L1833.6 459.1 L1833.3 460.1 L1832.9 461.2 L1832.6 462.2 L1832.2 463.3 L1831.8 464.3 L1831.4 465.4 L1831 466.5 L1830.6 467.6 L1830.1 468.7 L1829.7 469.8 L1829.2 470.9 L1828.7 472.1 L1828.1 473.2 L1827.6 474.3 L1827.1 475.4 L1826.5 476.6 L1825.9 477.7 L1825.3 478.8 L1824.7 479.9 L1824.1 481 L1823.4 482.1 L1822.7 483.2 L1822 484.3 L1821.3 485.4 L1820.6 486.4 L1819.8 487.5 L1819 488.6 L1818.3 489.7 L1817.5 490.8 L1816.7 491.9 L1815.9 493 L1815.2 494.2 L1814.4 495.3 L1813.6 496.4 L1812.9 497.6 L1812.2 498.8 L1811.4 500 L1810.6 501.2 L1809.9 502.4 L1809.1 503.6 L1808.3 504.8 L1807.5 506.1 L1806.8 507.3 L1806 508.6 L1805.2 509.8 L1804.5 511.1 L1803.8 512.3 L1803.1 513.6 L1802.4 514.8 L1801.7 516.1 L1801.1 517.3 L1800.5 518.5 L1799.9 519.8 L1799.3 521.1 L1798.7 522.3 L1798.2 523.6 L1797.6 524.9 L1797.1 526.2 L1796.6 527.5 L1796.1 528.7 L1795.6 530 L1795.2 531.2 L1794.7 532.4 L1794.3 533.6 L1793.9 534.8 L1793.6 535.9 L1793.2 537 L1792.9 538.1 L1792.6 539.1 L1792.3 540.1 L1792.1 541.1 L1791.8 542.1 L1791.6 543.1 L1791.5 544 L1791.3 544.9 L1791.1 545.9 L1791 546.8 L1790.8 547.6 L1790.7 548.5 L1790.6 549.3 L1790.5 550.2 L1790.3 551 L1790.2 551.8" stroke-width="1.65"/>
<path d="M1788.9 562.7 L1788.9 563.6 L1788.8 564.5 L1788.8 565.4 L1788.8 566.4 L1788.8 567.3 L1788.7 568.4 L1788.7 569.4 L1788.7 570.4 L1788.7 571.5 L1788.7 572.5 L1788.8 573.5 L1788.8 574.6 L1788.8 575.6 L1788.8 576.5 L1788.9 577.5 L1788.9 578.4" stroke-width="1.65"/>
<path d="M1790.2 591.2 L1790.4 592.3 L1790.6 593.4 L1790.9 594.6 L1791.1 595.9 L1791.4 597.2 L1791.7 598.5 L1792 599.9 L1792.3 601.2 L1792.6 602.6 L1793 604 L1793.3 605.4 L1793.7 606.7 L1794 608.1 L1794.4 609.4 L1794.8 610.7 L1795.2 611.9 L1795.6 613.1 L1796.1 614.3 L1796.5 615.5 L1797 616.8 L1797.5 618 L1798 619.2 L1798.5 620.3 L1799.1 621.5 L1799.6 622.7 L1800.1 623.8 L1800.6 624.9 L1801.2 625.9 L1801.6 626.9 L1802.1 627.9 L1802.6 628.8 L1803 629.7 L1803.4 630.5 L1803.8 631.3 L1804.2 632.1 L1804.5 632.8 L1804.9 633.4 L1805.2 634.1 L1805.5 634.7 L1805.8 635.2 L1806.2 635.8 L1806.5 636.3 L1806.8 636.8 L1807.1 637.3 L1807.4 637.7 L1807.7 638.2 L1808.1 638.6 L1808.4 639 L1808.8 639.4 L1809.1 639.7 L1809.5 640.1 L1809.9 640.4 L1810.3 640.6 L1810.7 640.9 L1811.1 641.1 L1811.5 641.3 L1811.9 641.5 L1812.2 641.7 L1812.6 641.9 L1812.9 642 L1813.2 642.1 L1813.5 642.3 L1813.7 642.4 L1813.9 642.5" stroke-width="1.65"/>
<path d="M1827.7 353.8 L1828.1 354.3 L1828.6 354.8 L1829.1 355.5 L1829.7 356.2 L1830.4 357 L1831.1 357.8 L1831.8 358.7 L1832.6 359.6 L1833.4 360.5 L1834.2 361.5 L1835 362.5 L1835.8 363.6 L1836.5 364.6 L1837.2 365.6 L1837.9 366.6 L1838.5 367.6 L1839.1 368.6 L1839.6 369.6 L1840.2 370.6 L1840.7 371.7 L1841.3 372.8 L1841.8 373.9 L1842.3 375 L1842.8 376.1 L1843.3 377.2 L1843.8 378.3 L1844.3 379.5 L1844.7 380.6 L1845.1 381.8 L1845.6 383 L1846 384.1 L1846.4 385.3 L1846.8 386.5 L1847.2 387.7 L1847.6 389 L1847.9 390.2 L1848.3 391.5 L1848.6 392.8 L1849 394.1 L1849.3 395.4 L1849.6 396.7 L1849.9 398 L1850.2 399.3 L1850.4 400.5 L1850.7 401.7 L1850.9 402.8 L1851.1 403.9 L1851.3 405 L1851.5 406 L1851.6 406.9 L1851.7 407.8 L1851.8 408.6 L1851.9 409.4 L1852 410.2 L1852.1 411" stroke-width="1.65"/>
<path d="M1852.3 418 L1852.3 418.9 L1852.4 419.9 L1852.4 420.9 L1852.4 422 L1852.4 423 L1852.4 424.1 L1852.4 425.2 L1852.4 426.3 L1852.4 427.4 L1852.4 428.5 L1852.4 429.6 L1852.4 430.6 L1852.4 431.7 L1852.4 432.7 L1852.3 433.7 L1852.3 434.6" stroke-width="1.65"/>
<path d="M1852 441.7 L1851.9 442.5 L1851.9 443.2 L1851.8 444 L1851.7 444.8 L1851.6 445.6 L1851.4 446.5 L1851.3 447.4 L1851.1 448.3 L1851 449.3 L1850.8 450.2 L1850.6 451.2 L1850.5 452.2 L1850.3 453.2 L1850.1 454.3 L1849.8 455.3 L1849.6 456.4 L1849.4 457.4 L1849.1 458.5 L1848.8 459.6 L1848.5 460.7 L1848.1 461.8 L1847.8 463 L1847.4 464.1 L1847 465.2 L1846.6 466.4 L1846.1 467.6 L1845.6 468.8 L1845.2 470 L1844.6 471.3 L1844.1 472.5 L1843.6 473.8 L1843 475 L1842.4 476.3 L1841.8 477.5 L1841.2 478.8 L1840.5 480.1 L1839.9 481.3 L1839.2 482.6 L1838.5 483.8 L1837.8 485 L1837 486.3 L1836.2 487.5 L1835.3 488.8 L1834.4 490.1 L1833.5 491.4 L1832.6 492.6 L1831.7 493.9 L1830.7 495.2 L1829.8 496.4 L1828.9 497.6 L1828 498.8 L1827.1 500 L1826.3 501.2 L1825.5 502.4 L1824.7 503.5 L1824 504.6 L1823.3 505.6 L1822.6 506.7 L1821.9 507.7 L1821.2 508.7 L1820.6 509.6 L1820 510.6 L1819.4 511.5 L1818.8 512.5 L1818.2 513.4 L1817.6 514.4 L1817.1 515.3 L1816.5 516.3 L1816 517.3 L1815.4 518.3 L1814.9 519.3 L1814.4 520.4 L1813.9 521.4 L1813.3 522.5 L1812.8 523.7 L1812.3 524.8 L1811.8 525.9 L1811.4 527.1 L1810.9 528.2 L1810.5 529.4 L1810 530.5 L1809.6 531.6 L1809.2 532.7 L1808.9 533.8 L1808.5 534.9 L1808.2 536 L1807.9 537 L1807.6 538 L1807.4 539 L1807.2 540 L1807.1 541 L1806.9 542 L1806.8 542.9 L1806.7 543.9 L1806.6 544.8 L1806.5 545.8 L1806.5 546.7 L1806.4 547.6 L1806.3 548.4 L1806.3 549.3 L1806.2 550.2 L1806.1 551 L1806 551.8" stroke-width="1.65"/>
<path d="M1804.6 562.7 L1804.6 563.6 L1804.5 564.5 L1804.5 565.4 L1804.5 566.4 L1804.4 567.3 L1804.4 568.4 L1804.4 569.4 L1804.4 570.4 L1804.4 571.5 L1804.4 572.5 L1804.4 573.5 L1804.5 574.6 L1804.5 575.6 L1804.5 576.5 L1804.6 577.5 L1804.6 578.4" stroke-width="1.65"/>
<path d="M1806 591.2 L1806.2 592.3 L1806.4 593.4 L1806.7 594.6 L1806.9 595.9 L1807.2 597.2 L1807.4 598.5 L1807.7 599.9 L1808 601.2 L1808.4 602.6 L1808.7 604 L1809 605.4 L1809.4 606.7 L1809.7 608.1 L1810.1 609.4 L1810.5 610.7 L1810.9 611.9 L1811.3 613.1 L1811.8 614.3 L1812.2 615.5 L1812.7 616.8 L1813.3 618 L1813.8 619.2 L1814.3 620.4 L1814.9 621.5 L1815.4 622.7 L1815.9 623.8 L1816.5 624.9 L1817 626 L1817.5 627 L1817.9 627.9 L1818.4 628.8 L1818.8 629.7 L1819.2 630.5 L1819.5 631.3 L1819.9 632 L1820.2 632.6 L1820.5 633.3 L1820.8 633.9 L1821.1 634.4 L1821.3 635 L1821.6 635.5 L1821.8 635.9 L1822.1 636.4 L1822.3 636.8 L1822.6 637.3 L1822.9 637.7 L1823.1 638.1 L1823.4 638.5 L1823.7 638.9 L1824 639.3 L1824.3 639.6 L1824.6 639.9 L1824.9 640.2 L1825.2 640.5 L1825.5 640.8 L1825.8 641 L1826.1 641.3 L1826.4 641.5 L1826.7 641.7 L1826.9 641.9 L1827.2 642.1 L1827.4 642.2 L1827.5 642.4 L1827.7 642.5" stroke-width="1.65"/>
<line x1="1549.2" y1="800.7" x2="1549.2" y2="825.4" stroke-width="3.1"/>
<line x1="1612.2" y1="800.7" x2="1612.2" y2="825.4" stroke-width="3.1"/>
<line x1="1549.2" y1="825.4" x2="1612.2" y2="825.4" stroke-width="1.65"/>
<line x1="1549.2" y1="828" x2="1612.2" y2="828" stroke-width="1.65"/>
<path d="M1549.2 825.4 L1549.2 887.4 L1554.1 895.8 L1554.1 986.3 L1570.5 1044.6 L1590.9 1044.6 L1607.3 986.3 L1607.3 895.8 L1612.2 887.4 L1612.2 825.4" stroke-width="3.1"/>
<line x1="1554.1" y1="949.4" x2="1607.3" y2="949.4" stroke-width="1.65"/>
<line x1="1554.1" y1="960.4" x2="1607.3" y2="960.4" stroke-width="1.65"/>
<line x1="1562.1" y1="1014.9" x2="1599.3" y2="1014.9" stroke-width="3.1"/>
<line x1="1580.7" y1="962" x2="1580.7" y2="1054" stroke-width="1.65" stroke-dasharray="58 5 14 5"/>
<line x1="1712.7" y1="800.7" x2="1712.7" y2="825.4" stroke-width="3.1"/>
<line x1="1775.7" y1="800.7" x2="1775.7" y2="825.4" stroke-width="3.1"/>
<line x1="1712.7" y1="825.4" x2="1775.7" y2="825.4" stroke-width="1.65"/>
<line x1="1712.7" y1="828" x2="1775.7" y2="828" stroke-width="1.65"/>
<path d="M1712.7 825.4 L1712.7 887.4 L1717.6 895.8 L1717.6 986.3 L1734 1044.6 L1754.4 1044.6 L1770.8 986.3 L1770.8 895.8 L1775.7 887.4 L1775.7 825.4" stroke-width="3.1"/>
<line x1="1717.6" y1="949.4" x2="1770.8" y2="949.4" stroke-width="1.65"/>
<line x1="1717.6" y1="960.4" x2="1770.8" y2="960.4" stroke-width="1.65"/>
<line x1="1725.6" y1="1014.9" x2="1762.8" y2="1014.9" stroke-width="3.1"/>
<line x1="1744.2" y1="890.7" x2="1744.2" y2="1054" stroke-width="1.65" stroke-dasharray="58 5 14 5"/>
<line x1="1865.4" y1="800.7" x2="1865.4" y2="825.4" stroke-width="3.1"/>
<line x1="1928.4" y1="800.7" x2="1928.4" y2="825.4" stroke-width="3.1"/>
<line x1="1865.4" y1="825.4" x2="1928.4" y2="825.4" stroke-width="1.65"/>
<line x1="1865.4" y1="828" x2="1928.4" y2="828" stroke-width="1.65"/>
<path d="M1865.4 825.4 L1865.4 887.4 L1870.3 895.8 L1870.3 986.3 L1886.7 1044.6 L1907.1 1044.6 L1923.5 986.3 L1923.5 895.8 L1928.4 887.4 L1928.4 825.4" stroke-width="3.1"/>
<line x1="1870.3" y1="949.4" x2="1923.5" y2="949.4" stroke-width="1.65"/>
<line x1="1870.3" y1="960.4" x2="1923.5" y2="960.4" stroke-width="1.65"/>
<line x1="1878.3" y1="1014.9" x2="1915.5" y2="1014.9" stroke-width="3.1"/>
<line x1="1896.9" y1="890.7" x2="1896.9" y2="1054" stroke-width="1.65" stroke-dasharray="58 5 14 5"/>
<line x1="2029.1" y1="800.7" x2="2029.1" y2="825.4" stroke-width="3.1"/>
<line x1="2092.1" y1="800.7" x2="2092.1" y2="825.4" stroke-width="3.1"/>
<line x1="2029.1" y1="825.4" x2="2092.1" y2="825.4" stroke-width="1.65"/>
<line x1="2029.1" y1="828" x2="2092.1" y2="828" stroke-width="1.65"/>
<path d="M2029.1 825.4 L2029.1 887.4 L2034 895.8 L2034 986.3 L2050.4 1044.6 L2070.8 1044.6 L2087.2 986.3 L2087.2 895.8 L2092.1 887.4 L2092.1 825.4" stroke-width="3.1"/>
<line x1="2034" y1="949.4" x2="2087.2" y2="949.4" stroke-width="1.65"/>
<line x1="2034" y1="960.4" x2="2087.2" y2="960.4" stroke-width="1.65"/>
<line x1="2042" y1="1014.9" x2="2079.2" y2="1014.9" stroke-width="3.1"/>
<line x1="2060.6" y1="962" x2="2060.6" y2="1054" stroke-width="1.65" stroke-dasharray="58 5 14 5"/>
<circle cx="1662.9" cy="535.8" r="22.7" stroke-width="2.8000000000000003"/>
<line x1="1640.3" y1="535.9" x2="1685.5" y2="535.9" stroke-width="1.65"/>
<line x1="1662.9" y1="513.3" x2="1662.9" y2="558.5" stroke-width="1.65"/>
<line x1="1633.9" y1="535.9" x2="1628.3" y2="535.9" stroke-width="1.65"/>
<line x1="1662.9" y1="507.6" x2="1662.9" y2="501.9" stroke-width="1.65"/>
<line x1="1691.9" y1="535.9" x2="1697.5" y2="535.9" stroke-width="1.65"/>
<line x1="1662.9" y1="564.2" x2="1662.9" y2="569.9" stroke-width="1.65"/>
<circle cx="1978.9" cy="535.8" r="22.7" stroke-width="2.8000000000000003"/>
<line x1="1956.3" y1="535.9" x2="2001.5" y2="535.9" stroke-width="1.65"/>
<line x1="1978.9" y1="513.3" x2="1978.9" y2="558.5" stroke-width="1.65"/>
<line x1="1949.9" y1="535.9" x2="1944.3" y2="535.9" stroke-width="1.65"/>
<line x1="1978.9" y1="507.6" x2="1978.9" y2="501.9" stroke-width="1.65"/>
<line x1="2007.9" y1="535.9" x2="2013.5" y2="535.9" stroke-width="1.65"/>
<line x1="1978.9" y1="564.2" x2="1978.9" y2="569.9" stroke-width="1.65"/>
<rect x="1862.1" y="511" width="68.9" height="202.2" rx="14.5" stroke-width="3.1"/>
<text class="b" transform="translate(1897.1 612) rotate(90)" x="0" y="20.5" font-size="58.6" text-anchor="middle" textLength="184.7" lengthAdjust="spacingAndGlyphs">&gt;PA66&lt;</text>
<rect x="2026.2" y="511" width="68.4" height="202.2" rx="14.5" stroke-width="3.1"/>
<text class="b" transform="translate(2060.6 605.7) rotate(90)" x="0" y="20.3" font-size="58" text-anchor="middle" textLength="155.9" lengthAdjust="spacingAndGlyphs">C1 1/X</text>
<line x1="1498" y1="79" x2="1498" y2="190.9" stroke-width="1.8"/>
<line x1="1498" y1="103" x2="2180.5" y2="103" stroke-width="1.8"/>
<line x1="1498" y1="165.4" x2="2180.5" y2="165.4" stroke-width="1.8"/>
<line x1="1498" y1="190.9" x2="2260" y2="190.9" stroke-width="1.8"/>
<line x1="1546.8" y1="103" x2="1546.8" y2="190.9" stroke-width="1.8"/>
<line x1="1595.5" y1="103" x2="1595.5" y2="190.9" stroke-width="1.8"/>
<line x1="1644.2" y1="103" x2="1644.2" y2="190.9" stroke-width="1.8"/>
<line x1="1693" y1="103" x2="1693" y2="190.9" stroke-width="1.8"/>
<line x1="1741.8" y1="103" x2="1741.8" y2="190.9" stroke-width="1.8"/>
<line x1="1790.5" y1="103" x2="1790.5" y2="190.9" stroke-width="1.8"/>
<line x1="1839.2" y1="103" x2="1839.2" y2="190.9" stroke-width="1.8"/>
<line x1="1888" y1="103" x2="1888" y2="190.9" stroke-width="1.8"/>
<line x1="1936.8" y1="103" x2="1936.8" y2="190.9" stroke-width="1.8"/>
<line x1="1985.5" y1="103" x2="1985.5" y2="190.9" stroke-width="1.8"/>
<line x1="2034.2" y1="103" x2="2034.2" y2="190.9" stroke-width="1.8"/>
<line x1="2083" y1="103" x2="2083" y2="190.9" stroke-width="1.8"/>
<line x1="2131.8" y1="103" x2="2131.8" y2="190.9" stroke-width="1.8"/>
<line x1="2180.5" y1="79" x2="2180.5" y2="190.9" stroke-width="1.8"/>
<line x1="2180.5" y1="143.4" x2="2260" y2="143.4" stroke-width="1.8"/>
<text class="cj" x="1511" y="97.3" font-size="17" textLength="70" lengthAdjust="spacingAndGlyphs">未注公差</text>
<text class="t n" x="1582" y="97.8" font-size="17.9" stroke-width="0.3" textLength="161" lengthAdjust="spacingAndGlyphs">/General tolerances(mm)</text>
<text class="t n" x="1522.4" y="122.2" font-size="17.9" stroke-width="0.3" text-anchor="middle">0</text>
<text class="t n" x="1522.4" y="146" font-size="24.3" stroke-width="0.9" text-anchor="middle">~</text>
<text class="t n" x="1522.4" y="160.6" font-size="17.9" stroke-width="0.3" text-anchor="middle">3</text>
<text class="t n" x="1571.1" y="122.2" font-size="17.9" stroke-width="0.3" text-anchor="middle" textLength="19" lengthAdjust="spacingAndGlyphs">&gt;3</text>
<text class="t n" x="1571.1" y="146" font-size="24.3" stroke-width="0.9" text-anchor="middle">~</text>
<text class="t n" x="1571.1" y="160.6" font-size="17.9" stroke-width="0.3" text-anchor="middle">6</text>
<text class="t n" x="1619.9" y="122.2" font-size="17.9" stroke-width="0.3" text-anchor="middle" textLength="19" lengthAdjust="spacingAndGlyphs">&gt;6</text>
<text class="t n" x="1619.9" y="146" font-size="24.3" stroke-width="0.9" text-anchor="middle">~</text>
<text class="t n" x="1619.9" y="160.6" font-size="17.9" stroke-width="0.3" text-anchor="middle" textLength="17.5" lengthAdjust="spacingAndGlyphs">10</text>
<text class="t n" x="1668.6" y="122.2" font-size="17.9" stroke-width="0.3" text-anchor="middle" textLength="28" lengthAdjust="spacingAndGlyphs">&gt;10</text>
<text class="t n" x="1668.6" y="146" font-size="24.3" stroke-width="0.9" text-anchor="middle">~</text>
<text class="t n" x="1668.6" y="160.6" font-size="17.9" stroke-width="0.3" text-anchor="middle" textLength="17.5" lengthAdjust="spacingAndGlyphs">18</text>
<text class="t n" x="1717.4" y="122.2" font-size="17.9" stroke-width="0.3" text-anchor="middle" textLength="28" lengthAdjust="spacingAndGlyphs">&gt;18</text>
<text class="t n" x="1717.4" y="146" font-size="24.3" stroke-width="0.9" text-anchor="middle">~</text>
<text class="t n" x="1717.4" y="160.6" font-size="17.9" stroke-width="0.3" text-anchor="middle" textLength="17.5" lengthAdjust="spacingAndGlyphs">30</text>
<text class="t n" x="1766.1" y="122.2" font-size="17.9" stroke-width="0.3" text-anchor="middle" textLength="28" lengthAdjust="spacingAndGlyphs">&gt;30</text>
<text class="t n" x="1766.1" y="146" font-size="24.3" stroke-width="0.9" text-anchor="middle">~</text>
<text class="t n" x="1766.1" y="160.6" font-size="17.9" stroke-width="0.3" text-anchor="middle" textLength="17.5" lengthAdjust="spacingAndGlyphs">50</text>
<text class="t n" x="1814.9" y="122.2" font-size="17.9" stroke-width="0.3" text-anchor="middle" textLength="28" lengthAdjust="spacingAndGlyphs">&gt;50</text>
<text class="t n" x="1814.9" y="146" font-size="24.3" stroke-width="0.9" text-anchor="middle">~</text>
<text class="t n" x="1814.9" y="160.6" font-size="17.9" stroke-width="0.3" text-anchor="middle" textLength="17.5" lengthAdjust="spacingAndGlyphs">80</text>
<text class="t n" x="1863.6" y="122.2" font-size="17.9" stroke-width="0.3" text-anchor="middle" textLength="28" lengthAdjust="spacingAndGlyphs">&gt;80</text>
<text class="t n" x="1863.6" y="146" font-size="24.3" stroke-width="0.9" text-anchor="middle">~</text>
<text class="t n" x="1863.6" y="160.6" font-size="17.9" stroke-width="0.3" text-anchor="middle" textLength="26.5" lengthAdjust="spacingAndGlyphs">120</text>
<text class="t n" x="1912.4" y="122.2" font-size="17.9" stroke-width="0.3" text-anchor="middle" textLength="36.5" lengthAdjust="spacingAndGlyphs">&gt;120</text>
<text class="t n" x="1912.4" y="146" font-size="24.3" stroke-width="0.9" text-anchor="middle">~</text>
<text class="t n" x="1912.4" y="160.6" font-size="17.9" stroke-width="0.3" text-anchor="middle" textLength="26.5" lengthAdjust="spacingAndGlyphs">180</text>
<text class="t n" x="1961.1" y="122.2" font-size="17.9" stroke-width="0.3" text-anchor="middle" textLength="36.5" lengthAdjust="spacingAndGlyphs">&gt;180</text>
<text class="t n" x="1961.1" y="146" font-size="24.3" stroke-width="0.9" text-anchor="middle">~</text>
<text class="t n" x="1961.1" y="160.6" font-size="17.9" stroke-width="0.3" text-anchor="middle" textLength="26.5" lengthAdjust="spacingAndGlyphs">250</text>
<text class="t n" x="2009.9" y="122.2" font-size="17.9" stroke-width="0.3" text-anchor="middle" textLength="36.5" lengthAdjust="spacingAndGlyphs">&gt;250</text>
<text class="t n" x="2009.9" y="146" font-size="24.3" stroke-width="0.9" text-anchor="middle">~</text>
<text class="t n" x="2009.9" y="160.6" font-size="17.9" stroke-width="0.3" text-anchor="middle" textLength="26.5" lengthAdjust="spacingAndGlyphs">315</text>
<text class="t n" x="2058.6" y="122.2" font-size="17.9" stroke-width="0.3" text-anchor="middle" textLength="36.5" lengthAdjust="spacingAndGlyphs">&gt;315</text>
<text class="t n" x="2058.6" y="146" font-size="24.3" stroke-width="0.9" text-anchor="middle">~</text>
<text class="t n" x="2058.6" y="160.6" font-size="17.9" stroke-width="0.3" text-anchor="middle" textLength="26.5" lengthAdjust="spacingAndGlyphs">400</text>
<text class="t n" x="2107.4" y="122.2" font-size="17.9" stroke-width="0.3" text-anchor="middle" textLength="36.5" lengthAdjust="spacingAndGlyphs">&gt;400</text>
<text class="t n" x="2107.4" y="146" font-size="24.3" stroke-width="0.9" text-anchor="middle">~</text>
<text class="t n" x="2107.4" y="160.6" font-size="17.9" stroke-width="0.3" text-anchor="middle" textLength="26.5" lengthAdjust="spacingAndGlyphs">500</text>
<text class="t n" x="2156.1" y="141.2" font-size="17.9" stroke-width="0.3" text-anchor="middle" textLength="36" lengthAdjust="spacingAndGlyphs">&gt;500</text>
<text class="t n" x="1522.4" y="184.8" font-size="17.9" stroke-width="0.3" text-anchor="middle" textLength="42" lengthAdjust="spacingAndGlyphs">±0.12</text>
<text class="t n" x="1571.1" y="184.8" font-size="17.9" stroke-width="0.3" text-anchor="middle" textLength="42" lengthAdjust="spacingAndGlyphs">±0.18</text>
<text class="t n" x="1619.9" y="184.8" font-size="17.9" stroke-width="0.3" text-anchor="middle" textLength="42" lengthAdjust="spacingAndGlyphs">±0.22</text>
<text class="t n" x="1668.6" y="184.8" font-size="17.9" stroke-width="0.3" text-anchor="middle" textLength="42" lengthAdjust="spacingAndGlyphs">±0.26</text>
<text class="t n" x="1717.4" y="184.8" font-size="17.9" stroke-width="0.3" text-anchor="middle" textLength="42" lengthAdjust="spacingAndGlyphs">±0.31</text>
<text class="t n" x="1766.1" y="184.8" font-size="17.9" stroke-width="0.3" text-anchor="middle" textLength="42" lengthAdjust="spacingAndGlyphs">±0.37</text>
<text class="t n" x="1814.9" y="184.8" font-size="17.9" stroke-width="0.3" text-anchor="middle" textLength="42" lengthAdjust="spacingAndGlyphs">±0.57</text>
<text class="t n" x="1863.6" y="184.8" font-size="17.9" stroke-width="0.3" text-anchor="middle" textLength="42" lengthAdjust="spacingAndGlyphs">±0.80</text>
<text class="t n" x="1912.4" y="184.8" font-size="17.9" stroke-width="0.3" text-anchor="middle" textLength="42" lengthAdjust="spacingAndGlyphs">±0.93</text>
<text class="t n" x="1961.1" y="184.8" font-size="17.9" stroke-width="0.3" text-anchor="middle" textLength="42" lengthAdjust="spacingAndGlyphs">±1.05</text>
<text class="t n" x="2009.9" y="184.8" font-size="17.9" stroke-width="0.3" text-anchor="middle" textLength="42" lengthAdjust="spacingAndGlyphs">±1.15</text>
<text class="t n" x="2058.6" y="184.8" font-size="17.9" stroke-width="0.3" text-anchor="middle" textLength="42" lengthAdjust="spacingAndGlyphs">±1.60</text>
<text class="t n" x="2107.4" y="184.8" font-size="17.9" stroke-width="0.3" text-anchor="middle" textLength="42" lengthAdjust="spacingAndGlyphs">±2.20</text>
<text class="t n" x="2156.1" y="184.8" font-size="17.9" stroke-width="0.3" text-anchor="middle" textLength="42" lengthAdjust="spacingAndGlyphs">±2.50</text>
<path d="M2205.5 110.4 A15.2 14.9 0 0 1 2236 110.4 Z" stroke-width="1.6"/>
<text class="t n" x="2220.5" y="134" font-size="17.1" stroke-width="0.3" text-anchor="middle" textLength="45" lengthAdjust="spacingAndGlyphs">0.1/10</text>
<path d="M2234 149.7 L2207.6 164 L2234 164" stroke-width="1.6"/>
<text class="t n" x="2220" y="184" font-size="17.1" stroke-width="0.3" text-anchor="middle" textLength="22" lengthAdjust="spacingAndGlyphs">±2'</text>
<line x1="1638" y1="1204.6" x2="2260" y2="1204.6" stroke-width="2.0"/>
<line x1="1638" y1="1240" x2="2260" y2="1240" stroke-width="2.0"/>
<line x1="1638" y1="1275.9" x2="2260" y2="1275.9" stroke-width="2.0"/>
<line x1="1638" y1="1204.6" x2="1638" y2="1311.7" stroke-width="2.0"/>
<line x1="1692.5" y1="1204.6" x2="1692.5" y2="1311.7" stroke-width="2.0"/>
<line x1="1921" y1="1204.6" x2="1921" y2="1311.7" stroke-width="2.0"/>
<line x1="2117.5" y1="1204.6" x2="2117.5" y2="1311.7" stroke-width="2.0"/>
<text class="t" x="1665.2" y="1230" font-size="20.4" stroke-width="0.5" text-anchor="middle">2</text>
<text class="t" x="1806.8" y="1230" font-size="20.4" stroke-width="0.5" text-anchor="middle" textLength="130" lengthAdjust="spacingAndGlyphs">Current_carrier</text>
<text class="t" x="2019.2" y="1230" font-size="20.4" stroke-width="0.5" text-anchor="middle" textLength="58" lengthAdjust="spacingAndGlyphs">Copper</text>
<text class="t" x="2188.8" y="1230" font-size="20.4" stroke-width="0.5" text-anchor="middle" textLength="84" lengthAdjust="spacingAndGlyphs">Sn_Plated</text>
<text class="t" x="1665.2" y="1265.7" font-size="20.4" stroke-width="0.5" text-anchor="middle">1</text>
<text class="t" x="1806.8" y="1265.7" font-size="20.4" stroke-width="0.5" text-anchor="middle" textLength="64" lengthAdjust="spacingAndGlyphs">Housing</text>
<text class="t" x="2019.2" y="1265.7" font-size="20.4" stroke-width="0.5" text-anchor="middle" textLength="39.5" lengthAdjust="spacingAndGlyphs">PA66</text>
<text class="t" x="2188.8" y="1265.7" font-size="20.4" stroke-width="0.5" text-anchor="middle" textLength="74.5" lengthAdjust="spacingAndGlyphs">UL94V_0</text>
<text class="t" x="1665.2" y="1301.6" font-size="20.4" stroke-width="0.5" text-anchor="middle" textLength="35.5" lengthAdjust="spacingAndGlyphs">ITEM</text>
<text class="t" x="1806.8" y="1301.6" font-size="20.4" stroke-width="0.5" text-anchor="middle" textLength="127" lengthAdjust="spacingAndGlyphs">NAME OF PART</text>
<text class="t" x="2019.2" y="1301.6" font-size="20.4" stroke-width="0.5" text-anchor="middle" textLength="74" lengthAdjust="spacingAndGlyphs">MATERIAL</text>
<text class="t" x="2188.8" y="1301.6" font-size="20.4" stroke-width="0.5" text-anchor="middle" textLength="51" lengthAdjust="spacingAndGlyphs">NOTES</text>
<line x1="1554" y1="1311.7" x2="2260" y2="1311.7" stroke-width="2.6"/>
<line x1="1554" y1="1337.2" x2="2260" y2="1337.2" stroke-width="1.8"/>
<line x1="1554" y1="1361.7" x2="2260" y2="1361.7" stroke-width="1.8"/>
<line x1="1554" y1="1311.7" x2="1554" y2="1385.5" stroke-width="2.6"/>
<line x1="2002.4" y1="1311.7" x2="2002.4" y2="1385.5" stroke-width="2.0"/>
<text class="cj" x="1556.8" y="1331.6" font-size="16" textLength="27" lengthAdjust="spacingAndGlyphs">间距</text>
<text class="t" x="1583.5" y="1331.9" font-size="18.3" stroke-width="0.3" textLength="101" lengthAdjust="spacing">/Pitch(mm)/</text>
<text class="cj" x="1684.6" y="1331.6" font-size="16" textLength="53" lengthAdjust="spacingAndGlyphs">线数范围</text>
<text class="t" x="1737.5" y="1331.9" font-size="18.3" stroke-width="0.3" textLength="51" lengthAdjust="spacing">/Poles</text>
<text class="t" x="2130" y="1331.9" font-size="18.3" stroke-width="0.3" text-anchor="middle" textLength="144" lengthAdjust="spacingAndGlyphs">5.2/N=2~10P,20P</text>
<text class="cj" x="1556.7" y="1356.1" font-size="16" textLength="78" lengthAdjust="spacingAndGlyphs">使用温度范围</text>
<text class="t" x="1635" y="1356.4" font-size="18.3" stroke-width="0.3" textLength="217.5" lengthAdjust="spacingAndGlyphs">/Operating temperature(°C)</text>
<text class="t" x="2131" y="1356.4" font-size="18.3" stroke-width="0.3" text-anchor="middle" textLength="84" lengthAdjust="spacing">-40~+105</text>
<text class="cj" x="1556.7" y="1380.6" font-size="16" textLength="26" lengthAdjust="spacingAndGlyphs">符合</text>
<text class="t" x="1587" y="1380.9" font-size="18.3" stroke-width="0.3" textLength="39" lengthAdjust="spacingAndGlyphs">RoHS</text>
<text class="cj" x="1629.8" y="1380.6" font-size="16" textLength="53" lengthAdjust="spacingAndGlyphs">环保要求</text>
<text class="t" x="1684.5" y="1380.9" font-size="18.3" stroke-width="0.3" textLength="151" lengthAdjust="spacing">/Conform to RoHS</text>
<text class="t" x="2131" y="1380.9" font-size="18.3" stroke-width="0.3" text-anchor="middle" textLength="25" lengthAdjust="spacingAndGlyphs">Yes</text>
<line x1="1312.7" y1="1386" x2="2260" y2="1386" stroke-width="4.2"/>
<line x1="1314.7" y1="1386" x2="1314.7" y2="1574.9" stroke-width="4.2"/>
<line x1="1535.6" y1="1386" x2="1535.6" y2="1574.9" stroke-width="4.0"/>
<line x1="1314.7" y1="1448" x2="1535.6" y2="1448" stroke-width="3.4"/>
<line x1="1314.7" y1="1481" x2="1535.6" y2="1481" stroke-width="2.6"/>
<line x1="1314.7" y1="1511.6" x2="1535.6" y2="1511.6" stroke-width="2.6"/>
<line x1="1314.7" y1="1544" x2="1535.6" y2="1544" stroke-width="2.6"/>
<line x1="1361.2" y1="1448" x2="1361.2" y2="1544" stroke-width="2.6"/>
<line x1="1444.5" y1="1448" x2="1444.5" y2="1574.9" stroke-width="2.6"/>
<line x1="1535.6" y1="1418.2" x2="2260" y2="1418.2" stroke-width="2.2"/>
<line x1="1535.6" y1="1449.3" x2="2260" y2="1449.3" stroke-width="4.0"/>
<line x1="1535.6" y1="1511.6" x2="2260" y2="1511.6" stroke-width="4.0"/>
<line x1="1844.6" y1="1386" x2="1844.6" y2="1449.3" stroke-width="2.4"/>
<line x1="1700.5" y1="1511.6" x2="1700.5" y2="1574.9" stroke-width="2.4"/>
<line x1="1945" y1="1511.6" x2="1945" y2="1574.9" stroke-width="2.4"/>
<line x1="2090" y1="1511.6" x2="2090" y2="1574.9" stroke-width="2.4"/>
<line x1="2168.7" y1="1511.6" x2="2168.7" y2="1574.9" stroke-width="2.4"/>
<path class="f" d="M1357.8 1396 L1378.8 1416.2 V1438.6 H1336.2 V1416.2 Z"/>
<path class="w" d="M1339.8 1418.7 H1375.8 L1357.8 1436 Z"/>
<text transform="translate(1384 1438.6) skewX(-14)" x="0" y="0" font-size="30" textLength="129" lengthAdjust="spacingAndGlyphs" style="font-weight:bold;stroke:#000;stroke-width:3px;paint-order:normal">DEGSON</text>
<text class="t" x="1338.3" y="1471.8" font-size="19.3" stroke-width="0.5" text-anchor="middle" textLength="36" lengthAdjust="spacingAndGlyphs">APPD:</text>
<text class="cj" x="1368.5" y="1470.9" font-size="15.5" textLength="44" lengthAdjust="spacingAndGlyphs">李根劳</text>
<text class="s" x="1487" y="1471.8" font-size="19.3" stroke-width="0.35" text-anchor="middle" textLength="74" lengthAdjust="spacingAndGlyphs">2022.02.25</text>
<text class="t" x="1338.3" y="1503.2" font-size="19.3" stroke-width="0.5" text-anchor="middle" textLength="36" lengthAdjust="spacingAndGlyphs">CHKD:</text>
<text class="cj" x="1368.5" y="1502.4" font-size="15.5" textLength="44" lengthAdjust="spacingAndGlyphs">马恩开</text>
<text class="s" x="1487" y="1503.2" font-size="19.3" stroke-width="0.35" text-anchor="middle" textLength="74" lengthAdjust="spacingAndGlyphs">2022.02.25</text>
<text class="t" x="1338.3" y="1534.8" font-size="19.3" stroke-width="0.5" text-anchor="middle" textLength="36" lengthAdjust="spacingAndGlyphs">DRFT:</text>
<text class="cj" x="1368.5" y="1533.9" font-size="15.5" textLength="44" lengthAdjust="spacingAndGlyphs">霍思榕</text>
<text class="s" x="1487" y="1534.8" font-size="19.3" stroke-width="0.35" text-anchor="middle" textLength="74" lengthAdjust="spacingAndGlyphs">2022.02.25</text>
<circle cx="1337.4" cy="1559.6" r="11.6" stroke-width="2.0"/>
<circle cx="1337.4" cy="1559.6" r="4.8" stroke-width="2.0"/>
<line x1="1324" y1="1559.6" x2="1351" y2="1559.6" stroke-width="1.4"/>
<line x1="1337.4" y1="1546" x2="1337.4" y2="1573.5" stroke-width="1.4"/>
<path d="M1360.7 1552.3 L1385.6 1547.3 L1385.6 1571 L1360.7 1566Z" stroke-width="2.0"/>
<line x1="1357" y1="1559.6" x2="1389" y2="1559.6" stroke-width="1.2" stroke-dasharray="12 3 3 3"/>
<text class="t" x="1416" y="1566.5" font-size="19.3" stroke-width="0.5" text-anchor="middle" textLength="19" lengthAdjust="spacingAndGlyphs">A4</text>
<text class="t n" x="1490" y="1554.5" font-size="14.3" stroke-width="0.3" text-anchor="middle" textLength="22" lengthAdjust="spacingAndGlyphs">mm</text>
<line x1="1452" y1="1555.3" x2="1529" y2="1555.3" stroke-width="1.6"/>
<path class="f" d="M1450 1555.3L1467 1552.5L1467 1558.1Z"/>
<path class="f" d="M1531 1555.3L1514 1558.1L1514 1552.5Z"/>
<text class="t n" x="1490" y="1570.5" font-size="15.7" stroke-width="0.3" text-anchor="middle" textLength="36" lengthAdjust="spacingAndGlyphs">(inch)</text>
<text class="t" x="1543.5" y="1410.3" font-size="21.4" stroke-width="0.5" textLength="78" lengthAdjust="spacingAndGlyphs">MATERIAL: /</text>
<text class="t" x="1543.5" y="1440.9" font-size="21.4" stroke-width="0.5" textLength="113" lengthAdjust="spacingAndGlyphs">MAT NO./REV: /</text>
<text class="t" x="1765.5" y="1440.9" font-size="21.4" stroke-width="0.5" textLength="30" lengthAdjust="spacingAndGlyphs">/ 00</text>
<text class="t" x="1852" y="1410.3" font-size="21.4" stroke-width="0.5" textLength="84" lengthAdjust="spacingAndGlyphs">SURFACE: /</text>
<text class="t" x="1852" y="1440.9" font-size="21.4" stroke-width="0.5" textLength="92" lengthAdjust="spacingAndGlyphs">MAT STATUS:</text>
<text class="cj" x="1955.8" y="1439.1" font-size="16" textLength="27" lengthAdjust="spacingAndGlyphs">批量</text>
<text class="t" x="1543.5" y="1470.8" font-size="19.3" stroke-width="0.5" textLength="37" lengthAdjust="spacingAndGlyphs">NAME</text>
<text class="s" x="1875.8" y="1498" font-size="35.7" stroke-width="0.5" text-anchor="middle" textLength="229" lengthAdjust="spacingAndGlyphs">DFBXX-5.2-1Y-00A(H)</text>
<text class="t" x="1544" y="1531.8" font-size="19.3" stroke-width="0.5" textLength="96" lengthAdjust="spacingAndGlyphs">DRAWING NO.</text>
<text class="s" x="1615" y="1563" font-size="27.1" stroke-width="0.5" text-anchor="middle" textLength="91" lengthAdjust="spacingAndGlyphs">200000754</text>
<text class="t" x="1712.7" y="1531.8" font-size="19.3" stroke-width="0.5" textLength="33" lengthAdjust="spacingAndGlyphs">TYPE</text>
<text class="s" x="1822.5" y="1563.5" font-size="27.1" stroke-width="0.5" text-anchor="middle" textLength="163" lengthAdjust="spacingAndGlyphs">CUSTOMER DRAWING</text>
<text class="t" x="2018" y="1531.8" font-size="19.3" stroke-width="0.5" text-anchor="middle" textLength="120" lengthAdjust="spacingAndGlyphs">DRAWING STATUS</text>
<text class="cj" x="1987" y="1561.9" font-size="22" textLength="58" lengthAdjust="spacingAndGlyphs">已发布</text>
<text class="t" x="2130" y="1531.8" font-size="19.3" stroke-width="0.5" text-anchor="middle" textLength="44" lengthAdjust="spacingAndGlyphs">SCALE</text>
<text class="s" x="2127.7" y="1563" font-size="27.1" stroke-width="0.5" text-anchor="middle" textLength="28" lengthAdjust="spacingAndGlyphs">4:1</text>
<text class="t" x="2215" y="1531.8" font-size="19.3" stroke-width="0.5" text-anchor="middle" textLength="44" lengthAdjust="spacingAndGlyphs">SHEET</text>
<text class="s" x="2210.6" y="1563" font-size="27.1" stroke-width="0.5" text-anchor="middle" textLength="28" lengthAdjust="spacingAndGlyphs">1/1</text>
<line x1="511.8" y1="1512" x2="1314.7" y2="1512" stroke-width="2.0"/>
<line x1="511.8" y1="1544.2" x2="1314.7" y2="1544.2" stroke-width="1.8"/>
<line x1="511.8" y1="1512" x2="511.8" y2="1574.9" stroke-width="2.0"/>
<line x1="574.9" y1="1512" x2="574.9" y2="1574.9" stroke-width="2.0"/>
<line x1="708.5" y1="1512" x2="708.5" y2="1574.9" stroke-width="2.0"/>
<line x1="1102.5" y1="1512" x2="1102.5" y2="1574.9" stroke-width="2.0"/>
<line x1="1205.2" y1="1512" x2="1205.2" y2="1574.9" stroke-width="2.0"/>
<text class="t" x="541.8" y="1532.8" font-size="13.6" stroke-width="0.3" text-anchor="middle" textLength="10" lengthAdjust="spacingAndGlyphs">01</text>
<text class="t" x="640" y="1533" font-size="14.3" stroke-width="0.3" text-anchor="middle">/</text>
<text class="cj" x="904.8" y="1532" font-size="11" text-anchor="middle" textLength="45" lengthAdjust="spacingAndGlyphs">总高增加</text>
<text class="cj" x="1152.9" y="1532" font-size="11" text-anchor="middle" textLength="33.5" lengthAdjust="spacingAndGlyphs">霍思榕</text>
<text class="s" x="1257.7" y="1532.8" font-size="13.6" stroke-width="0.35" text-anchor="middle" textLength="59" lengthAdjust="spacingAndGlyphs">2022.02.25</text>
<text class="t" x="542.5" y="1565.5" font-size="18.6" stroke-width="0.5" text-anchor="middle" textLength="24" lengthAdjust="spacingAndGlyphs">REV</text>
<text class="t" x="640.5" y="1565.5" font-size="18.6" stroke-width="0.5" text-anchor="middle" textLength="28" lengthAdjust="spacingAndGlyphs">ECN</text>
<text class="t" x="905" y="1565.5" font-size="18.6" stroke-width="0.5" text-anchor="middle" textLength="93" lengthAdjust="spacingAndGlyphs">DESCRIPTION</text>
<text class="t" x="1153" y="1565.5" font-size="18.6" stroke-width="0.5" text-anchor="middle" textLength="34" lengthAdjust="spacingAndGlyphs">DRFT</text>
<text class="t" x="1258.5" y="1565.5" font-size="18.6" stroke-width="0.5" text-anchor="middle" textLength="32" lengthAdjust="spacingAndGlyphs">DATE</text>
<text class="cj" transform="translate(69.5 1114) rotate(-90)" x="0" y="4.9" font-size="13" textLength="772" lengthAdjust="spacingAndGlyphs">非给予明确授权，否则禁止转让，复制，利用，交流本文件的内容．侵犯者将负赔偿责任．本公司保留对涉及发明，实用新型和外观专利的所有权利．</text>
<clipPath id="cl"><polygon points="302.4,900 302.4,1008.2 303,1008.9 303.9,1009.9 304.9,1011 306,1012.2 307.2,1013.6 308.5,1015.2 309.7,1016.9 311,1018.7 312.3,1020.7 313.7,1023 315.1,1025.4 316.6,1027.9 318.1,1030.5 319.5,1033.2 320.9,1035.8 322.1,1038.4 323.2,1041 324.3,1043.7 325.3,1046.5 326.2,1049.3 327.1,1052 327.9,1054.7 328.7,1057.1 329.5,1059.3 330.2,1061.2 330.9,1062.9 331.6,1064.3 332.2,1065.7 332.8,1067 333.3,1068.4 333.9,1069.9 334.4,1071.6 334.9,1073.4 335.4,1075.3 335.9,1077.2 336.3,1079.2 336.8,1081.3 337.2,1083.6 337.7,1086.1 338.1,1088.9 338.6,1092 339.1,1095.4 339.6,1099 340.2,1102.8 340.7,1106.7 341.1,1110.6 341.3,1114.4 341.5,1118.2 341.5,1121.9 341.4,1125.6 341.3,1129.3 341,1133 340.6,1136.7 340.2,1140.4 339.7,1144.1 339.2,1147.8 338.6,1151.5 337.9,1155.2 337.1,1158.8 336.2,1162.5 335.3,1166.2 334.4,1169.9 333.4,1173.6 332.3,1177.4 331.2,1181.4 329.9,1185.5 328.6,1189.8 327.3,1194.1 326,1198.2 324.6,1202.1 323.3,1205.6 322.1,1208.7 320.9,1211.2 319.8,1213.4 318.7,1215.1 317.6,1216.6 316.6,1218 315.5,1219.3 314.5,1220.7 313.5,1222.2 312.5,1223.8 311.6,1225.4 310.6,1227 309.7,1228.6 308.8,1230.2 307.9,1231.7 307,1233.1 306.1,1234.5 305.2,1235.7 304.3,1236.8 303.4,1237.8 302.6,1238.7 301.7,1239.7 300.7,1240.8 299.7,1242.1 298.7,1243.7 297.6,1245.5 296.5,1247.5 295.3,1249.7 294.1,1252 292.9,1254.4 291.6,1256.9 290.3,1259.5 288.9,1262.2 287.4,1265 285.9,1268.1 284.2,1271.3 282.5,1274.6 280.9,1277.8 279.3,1281 277.9,1284 276.6,1286.8 275.5,1289.3 274.6,1291.5 273.8,1293.6 273,1295.6 272.4,1297.5 271.7,1299.5 271.1,1301.7 270.4,1304 269.7,1306.5 269,1309.1 268.3,1311.9 267.7,1314.6 267.1,1317.5 266.5,1320.4 266,1323.3 265.5,1326.2 265.1,1329.1 264.7,1332 264.4,1335 264.1,1338 263.9,1341 263.7,1344.2 263.6,1347.4 263.6,1350.8 263.6,1354.5 263.8,1358.5 264,1362.7 264.2,1366.9 264.5,1371 264.8,1375 265.2,1378.5 265.5,1381.6 265.9,1384.1 266.2,1386.1 266.7,1387.8 267.1,1389.2 267.6,1390.6 268.1,1392 268.6,1393.4 269.2,1395.2 269.8,1397.1 270.5,1399.1 271.3,1401.1 272,1403.1 272.8,1405.2 273.6,1407.5 274.5,1409.9 275.3,1412.4 276.2,1415.2 277.1,1418.3 278,1421.5 278.9,1424.8 279.9,1428.2 280.8,1431.4 281.8,1434.3 282.7,1437 283.7,1439.4 284.7,1441.8 285.8,1444 286.8,1446 287.8,1447.9 288.7,1449.5 289.4,1450.9 290,1452 290,1620 90,1620 90,900"/></clipPath>
<clipPath id="cr"><polygon points="346,900 346,1042.6 346.7,1044.3 347.6,1046.5 348.7,1049.2 349.9,1052.2 351.2,1055.3 352.5,1058.4 353.6,1061.4 354.6,1064.2 355.5,1066.7 356.3,1069.2 357.1,1071.6 357.8,1074 358.5,1076.4 359.1,1078.9 359.7,1081.3 360.2,1083.9 360.7,1086.5 361.1,1089.1 361.4,1091.8 361.7,1094.5 362,1097.2 362.2,1100.1 362.4,1103 362.6,1106 362.8,1109.2 363,1112.5 363.1,1115.9 363.3,1119.4 363.3,1123 363.4,1126.5 363.4,1129.9 363.3,1133.2 363.2,1136.4 363,1139.5 362.8,1142.6 362.5,1145.7 362.1,1148.7 361.8,1151.7 361.3,1154.7 360.8,1157.8 360.2,1160.9 359.6,1164 358.9,1167.1 358.1,1170.2 357.3,1173.3 356.4,1176.4 355.5,1179.4 354.6,1182.4 353.6,1185.3 352.6,1188.3 351.5,1191.2 350.4,1194.1 349.3,1196.9 348.2,1199.6 347.1,1202.2 346,1204.7 345,1207 344,1209.2 343.1,1211.3 342.1,1213.2 341.2,1215.2 340.2,1217.1 339.1,1219 338,1221 336.7,1223 335.4,1225.1 333.9,1227.2 332.5,1229.3 331,1231.3 329.6,1233.3 328.2,1235.2 327,1237 325.9,1238.7 324.9,1240.2 324,1241.7 323.2,1243.1 322.3,1244.5 321.5,1245.9 320.6,1247.3 319.7,1248.7 318.7,1250.2 317.7,1251.6 316.6,1253.1 315.6,1254.6 314.6,1256 313.5,1257.5 312.6,1258.9 311.7,1260.4 310.9,1261.7 310.3,1262.9 309.7,1264.1 309.1,1265.2 308.5,1266.5 307.8,1268 307,1269.8 306.1,1272 304.9,1274.6 303.6,1277.7 302.1,1281 300.6,1284.6 299,1288.3 297.6,1292 296.2,1295.6 295,1299.1 294,1302.5 293,1305.8 292.1,1309.1 291.3,1312.4 290.6,1315.8 290,1319.2 289.4,1322.6 288.9,1326.2 288.5,1329.9 288.1,1333.8 287.9,1337.8 287.7,1341.8 287.6,1345.7 287.5,1349.6 287.5,1353.4 287.6,1357 287.7,1360.4 287.9,1363.6 288.2,1366.7 288.5,1369.7 288.9,1372.6 289.3,1375.6 289.7,1378.6 290.1,1381.6 290.5,1384.8 290.9,1388.1 291.3,1391.4 291.8,1394.7 292.3,1397.9 292.8,1401 293.3,1403.8 293.8,1406.3 294.3,1408.4 294.8,1410 295.3,1411.4 295.9,1412.7 296.4,1413.9 297.1,1415.2 297.8,1416.7 298.7,1418.6 299.7,1420.8 300.7,1423.3 301.9,1426 303.1,1428.8 304.4,1431.7 305.8,1434.5 307.2,1437.3 308.6,1440 310.2,1442.7 312,1445.6 314,1448.5 315.9,1451.3 317.8,1454 319.5,1456.4 320.9,1458.5 322,1460 322,1620 640,1620 640,900"/></clipPath>
<g clip-path="url(#cl)">
<path d="M170.6 1262.2 L166.9 1305.2 L164.4 1343.2 L165.6 1360.7 L174.3 1382.9 L184.1 1397.7 L196.5 1406.9" stroke-width="3.9"/>
<path d="M205.1 1279.4 L198.9 1318.9 L196.5 1323.8 L192.8 1350.9 L192.2 1375.5 L194 1397.7 L196.5 1406.9" stroke-width="3.9"/>
<path d="M166.9 1343.5 L191.5 1355.8" stroke-width="1.8"/>
<path d="M166.9 1350.9 L191.5 1363.2" stroke-width="1.8"/>
<path d="M174.3 1382.9 L192.8 1392.7" stroke-width="2.9"/>
<path d="M214.9 1272.1 L211.2 1315.2 L207.5 1325 L202.6 1374.2 L203.2 1397.7 L196.5 1406.9" stroke-width="2.9"/>
<path d="M196.5 1322.5 L211.2 1315.2" stroke-width="2.9"/>
<path d="M195.2 1376.7 L203.9 1370.6" stroke-width="2.9"/>
<path d="M223.6 1267.1 L227.3 1300.4 L233.4 1337.3 L230.9 1359.5 L219.9 1384.1 L208.8 1398.9 L203.2 1399.2" stroke-width="3.9"/>
<path d="M216.2 1272.1 L222.3 1307.8 L223.6 1341 L222.3 1355.8 L210 1386.6 L203.9 1397.7" stroke-width="2.9"/>
<path d="M216.2 1312.7 L228.5 1305.3" stroke-width="2.9"/>
<path d="M222.3 1358.2 L232.2 1354.6" stroke-width="2.9"/>
<path d="M206.3 1334.9 L221.1 1343.5" stroke-width="1.8"/>
<path d="M206.3 1338.6 L221.1 1347.2" stroke-width="1.8"/>
<path d="M210 1390.2 L226 1363.2" stroke-width="1.8"/>
<path d="M257.4 1312.3 L253.7 1355.3 L251.2 1393.3 L252.4 1410.8 L261.1 1433 L270.9 1447.8 L283.3 1457" stroke-width="3.9"/>
<path d="M291.9 1329.5 L285.7 1369 L283.3 1373.9 L279.6 1401 L279 1425.6 L280.8 1447.8 L283.3 1457" stroke-width="3.9"/>
<path d="M253.7 1393.6 L278.3 1405.9" stroke-width="1.8"/>
<path d="M253.7 1401 L278.3 1413.3" stroke-width="1.8"/>
<path d="M261.1 1433 L279.6 1442.8" stroke-width="2.9"/>
<path d="M301.7 1322.2 L298 1365.3 L294.3 1375.1 L289.4 1424.3 L290 1447.8 L283.3 1457" stroke-width="2.9"/>
<path d="M283.3 1372.6 L298 1365.3" stroke-width="2.9"/>
<path d="M282 1426.8 L290.7 1420.7" stroke-width="2.9"/>
<path d="M310.4 1317.2 L314.1 1350.5 L320.2 1387.4 L317.7 1409.6 L306.7 1434.2 L295.6 1449 L290 1449.3" stroke-width="3.9"/>
<path d="M303 1322.2 L309.1 1357.9 L310.4 1391.1 L309.1 1405.9 L296.8 1436.7 L290.7 1447.8" stroke-width="2.9"/>
<path d="M303 1362.8 L315.3 1355.4" stroke-width="2.9"/>
<path d="M309.1 1408.3 L319 1404.7" stroke-width="2.9"/>
<path d="M293.1 1385 L307.9 1393.6" stroke-width="1.8"/>
<path d="M293.1 1388.7 L307.9 1397.3" stroke-width="1.8"/>
<path d="M296.8 1440.3 L312.8 1413.3" stroke-width="1.8"/>
<polygon class="w" points="146,1147.9 146,1226.9 149.2,1247.3 203.1,1278.4 206.3,1261.7 206.3,1182.7"/>
<polygon class="w" points="232.9,1198 232.9,1277.1 236.1,1297.4 289.8,1328.4 292.9,1311.8 292.9,1232.7"/>
<polygon class="w" points="314.2,1244.9 314.2,1324 317.3,1344.4 371.5,1375.6 374.6,1358.9 374.6,1279.9"/>
<polygon class="w" points="400.8,1295 400.8,1374 403.9,1394.4 457.2,1425.1 460.4,1408.4 460.4,1329.4"/>
<polygon class="w" points="206.3,1188.8 232.7,1173.5 229.5,1263.1 203.1,1278.4 206.3,1261.7"/>
<path d="M206.3 1261.7 L232.7 1246.4" stroke-width="2.9"/>
<path d="M204.7 1277.5 L232.7 1261.3" stroke-width="2.9"/>
<polygon class="w" points="292.9,1238.8 319.4,1223.5 316.2,1313.2 289.8,1328.4 292.9,1311.8"/>
<path d="M292.9 1311.8 L319.4 1296.5" stroke-width="2.9"/>
<path d="M291.4 1327.5 L319.4 1311.3" stroke-width="2.9"/>
<polygon class="w" points="374.6,1286 401.1,1270.7 397.9,1360.3 371.5,1375.6 374.6,1358.9"/>
<path d="M374.6 1358.9 L401.1 1343.7" stroke-width="2.9"/>
<path d="M373 1374.7 L401.1 1358.5" stroke-width="2.9"/>
<path d="M149.2 1247.3 L146 1226.9 L146 975.6 L148.1 971.3 L191.5 946.2 L196.4 946 L505.9 1124.7 L506.9 1127.1 L508.5 1129.3" stroke-width="3.9" stroke-linejoin="round"/>
<path d="M148.2 972.3 L460.4 1152.5" stroke-width="2.3"/>
<path d="M146.1 976.8 L457.8 1156.8" stroke-width="2.3"/>
<path d="M169.4 987.2 L217.5 959.4" stroke-width="4.4"/>
<path d="M182.3 993.5 L230.4 965.7" stroke-width="2.9"/>
<path d="M169.4 989.7 L182.3 997.1" stroke-width="2.9"/>
<path d="M256.1 1037.3 L304.2 1009.5" stroke-width="4.4"/>
<path d="M269 1043.5 L317.1 1015.7" stroke-width="2.9"/>
<path d="M256.1 1039.7 L269 1047.2" stroke-width="2.9"/>
<path d="M337.1 1084.1 L385.3 1056.3" stroke-width="4.4"/>
<path d="M350.3 1090.5 L398.5 1062.7" stroke-width="2.9"/>
<path d="M337.1 1086.5 L350.3 1094.2" stroke-width="2.9"/>
<path d="M424.2 1134.4 L472.4 1106.6" stroke-width="4.4"/>
<path d="M437.7 1140.9 L485.8 1113.1" stroke-width="2.9"/>
<path d="M424.2 1136.8 L437.7 1144.6" stroke-width="2.9"/>
<path d="M508.5 1128.6 L508.5 1380.6 L505.3 1401 L463.5 1425.1" stroke-width="3.9"/>
<path d="M508.5 1380.6 L460.4 1408.4" stroke-width="2.9"/>
<path d="M460.4 1154 L508.5 1126.2" stroke-width="1.8"/>
<path d="M458.3 1156.5 L463.5 1155.8 L508.5 1129.9" stroke-width="1.8"/>
<path d="M457.8 1154.9 L457.8 1406.9" stroke-width="1.8"/>
<path d="M463 1156.1 L463 1406.9" stroke-width="1.8"/>
<path d="M146 1226.9 L206.3 1261.7" stroke-width="3.9"/>
<path d="M146 1226.9 L150.8 1246.4 L204.7 1277.5 L206.3 1261.7" stroke-width="3.9"/>
<path d="M232.9 1277.1 L292.9 1311.8" stroke-width="3.9"/>
<path d="M232.9 1277.1 L237.6 1296.5 L291.4 1327.5 L292.9 1311.8" stroke-width="3.9"/>
<path d="M314.2 1324 L374.6 1358.9" stroke-width="3.9"/>
<path d="M314.2 1324 L318.9 1343.4 L373 1374.7 L374.6 1358.9" stroke-width="3.9"/>
<path d="M400.8 1374 L460.4 1408.4" stroke-width="3.9"/>
<path d="M400.8 1374 L405.5 1393.4 L458.8 1424.2 L460.4 1408.4" stroke-width="3.9"/>
<path d="M206.3 1261.7 L206.3 1188.8" stroke-width="1.8"/>
<path d="M206.3 1188.8 L207.6 1186.2 L210.5 1186.3 L228.6 1196.8 L231.6 1200 L232.9 1204.1 L232.9 1277.1" stroke-width="3.9"/>
<path d="M202.6 1259.6 L202.6 1183.6 L204.2 1180.2 L207.3 1180.8" stroke-width="1.8"/>
<path d="M292.9 1311.8 L292.9 1238.8" stroke-width="1.8"/>
<path d="M292.9 1238.8 L294.3 1236.2 L297.2 1236.4 L309.9 1243.7 L312.8 1246.9 L314.2 1251.1 L314.2 1324" stroke-width="3.9"/>
<path d="M289.2 1309.6 L289.2 1233.6 L290.8 1230.3 L294 1230.9" stroke-width="1.8"/>
<path d="M374.6 1358.9 L374.6 1286" stroke-width="1.8"/>
<path d="M374.6 1286 L376 1283.4 L378.9 1283.5 L396.5 1293.7 L399.5 1296.9 L400.8 1301.1 L400.8 1374" stroke-width="3.9"/>
<path d="M370.9 1356.8 L370.9 1280.8 L372.5 1277.4 L375.7 1278" stroke-width="1.8"/>
<path d="M162 1013.5 L444.5 1176.6 L444.5 1206 L162 1042.8Z" stroke-width="2.9"/>
<path d="M171.5 1027.6 L444.5 1185.2" stroke-width="4.2"/>
<path d="M171.5 1039 L442.9 1195.7" stroke-width="1.8"/>
<path d="M171.5 1041.6 L442.9 1198.3" stroke-width="1.8"/>
<path d="M163.6 1016.9 L171.5 1027.6 L163.6 1041.3" stroke-width="2.9"/>
<path d="M187.4 1076.9 L190.2 1079.1 L192.6 1082.4 L194.2 1086.1 L194.8 1089.7 L194.8 1226.9 L194.2 1229.9 L192.6 1231.7 L190.2 1232.2 L187.4 1231.2 L164.3 1217.9 L161.5 1215.6 L159.1 1212.3 L157.5 1208.6 L156.9 1205 L156.9 1067.8 L157.5 1064.9 L159.1 1063 L161.5 1062.6 L164.3 1063.5Z" stroke-width="3.9"/>
<path d="M268.9 1123.9 L271.7 1126.2 L274.1 1129.4 L275.7 1133.1 L276.3 1136.7 L276.3 1197.4 L275.7 1200.4 L274.1 1202.2 L271.7 1202.7 L268.9 1201.7 L212.8 1169.3 L209.9 1167 L207.5 1163.8 L205.9 1160.1 L205.4 1156.5 L205.4 1095.8 L205.9 1092.9 L207.5 1091 L209.9 1090.5 L212.8 1091.5Z" stroke-width="3.9"/>
<path d="M240.9 1117.4 L266.2 1160.7 L266.2 1189.8 L215.4 1160.4 L215.4 1131.4Z" stroke-width="3.9"/>
<path d="M215.4 1131.4 L266.2 1160.7 L240.9 1175.2 L215.4 1131.4" stroke-width="3.9"/>
<g transform="matrix(0.5291 0.3055 0 0.6110 -148.62 586.10)"><text class="b" transform="translate(613.6 612.5) rotate(-90)" x="0" y="18.8" font-size="53.7" text-anchor="middle" textLength="221" lengthAdjust="spacingAndGlyphs" style="font-style:italic;stroke:#000;stroke-width:3px">DFBXX-5.2</text></g>
</g>
<g clip-path="url(#cr)">
<path d="M241.5 1312.2 L237.8 1355.2 L235.3 1393.2 L236.5 1410.7 L245.2 1432.9 L255 1447.7 L267.4 1456.9" stroke-width="3.9"/>
<path d="M276 1329.4 L269.8 1368.9 L267.4 1373.8 L263.7 1400.9 L263.1 1425.5 L264.9 1447.7 L267.4 1456.9" stroke-width="3.9"/>
<path d="M237.8 1393.5 L262.4 1405.8" stroke-width="1.8"/>
<path d="M237.8 1400.9 L262.4 1413.2" stroke-width="1.8"/>
<path d="M245.2 1432.9 L263.7 1442.7" stroke-width="2.9"/>
<path d="M285.8 1322.1 L282.1 1365.2 L278.4 1375 L273.5 1424.2 L274.1 1447.7 L267.4 1456.9" stroke-width="2.9"/>
<path d="M267.4 1372.5 L282.1 1365.2" stroke-width="2.9"/>
<path d="M266.1 1426.7 L274.8 1420.6" stroke-width="2.9"/>
<path d="M294.5 1317.1 L298.2 1350.4 L304.3 1387.3 L301.8 1409.5 L290.8 1434.1 L279.7 1448.9 L274.1 1449.2" stroke-width="3.9"/>
<path d="M287.1 1322.1 L293.2 1357.8 L294.5 1391 L293.2 1405.8 L280.9 1436.6 L274.8 1447.7" stroke-width="2.9"/>
<path d="M287.1 1362.7 L299.4 1355.3" stroke-width="2.9"/>
<path d="M293.2 1408.2 L303.1 1404.6" stroke-width="2.9"/>
<path d="M277.2 1384.9 L292 1393.5" stroke-width="1.8"/>
<path d="M277.2 1388.6 L292 1397.2" stroke-width="1.8"/>
<path d="M280.9 1440.2 L296.9 1413.2" stroke-width="1.8"/>
<path d="M328.3 1362.3 L324.6 1405.3 L322.1 1443.3 L323.3 1460.8 L332 1483 L341.8 1497.8 L354.2 1507" stroke-width="3.9"/>
<path d="M362.8 1379.5 L356.6 1419 L354.2 1423.9 L350.5 1451 L349.9 1475.6 L351.7 1497.8 L354.2 1507" stroke-width="3.9"/>
<path d="M324.6 1443.6 L349.2 1455.9" stroke-width="1.8"/>
<path d="M324.6 1451 L349.2 1463.3" stroke-width="1.8"/>
<path d="M332 1483 L350.5 1492.8" stroke-width="2.9"/>
<path d="M372.6 1372.2 L368.9 1415.3 L365.2 1425.1 L360.3 1474.3 L360.9 1497.8 L354.2 1507" stroke-width="2.9"/>
<path d="M354.2 1422.6 L368.9 1415.3" stroke-width="2.9"/>
<path d="M352.9 1476.8 L361.6 1470.7" stroke-width="2.9"/>
<path d="M381.3 1367.2 L385 1400.5 L391.1 1437.4 L388.6 1459.6 L377.6 1484.2 L366.5 1499 L360.9 1499.3" stroke-width="3.9"/>
<path d="M373.9 1372.2 L380 1407.9 L381.3 1441.1 L380 1455.9 L367.7 1486.7 L361.6 1497.8" stroke-width="2.9"/>
<path d="M373.9 1412.8 L386.2 1405.4" stroke-width="2.9"/>
<path d="M380 1458.3 L389.9 1454.7" stroke-width="2.9"/>
<path d="M364 1435 L378.8 1443.6" stroke-width="1.8"/>
<path d="M364 1438.7 L378.8 1447.3" stroke-width="1.8"/>
<path d="M367.7 1490.3 L383.7 1463.3" stroke-width="1.8"/>
<path d="M415.1 1412.4 L411.4 1455.4 L408.9 1493.4 L410.1 1510.9 L418.8 1533.1 L428.6 1547.9 L441 1557.1" stroke-width="3.9"/>
<path d="M449.6 1429.6 L443.4 1469.1 L441 1474 L437.3 1501.1 L436.7 1525.7 L438.5 1547.9 L441 1557.1" stroke-width="3.9"/>
<path d="M411.4 1493.7 L436 1506" stroke-width="1.8"/>
<path d="M411.4 1501.1 L436 1513.4" stroke-width="1.8"/>
<path d="M418.8 1533.1 L437.3 1542.9" stroke-width="2.9"/>
<path d="M459.4 1422.3 L455.7 1465.4 L452 1475.2 L447.1 1524.4 L447.7 1547.9 L441 1557.1" stroke-width="2.9"/>
<path d="M441 1472.7 L455.7 1465.4" stroke-width="2.9"/>
<path d="M439.7 1526.9 L448.4 1520.8" stroke-width="2.9"/>
<path d="M468.1 1417.3 L471.8 1450.6 L477.9 1487.5 L475.4 1509.7 L464.4 1534.3 L453.3 1549.1 L447.7 1549.4" stroke-width="3.9"/>
<path d="M460.7 1422.3 L466.8 1458 L468.1 1491.2 L466.8 1506 L454.5 1536.8 L448.4 1547.9" stroke-width="2.9"/>
<path d="M460.7 1462.9 L473 1455.5" stroke-width="2.9"/>
<path d="M466.8 1508.4 L476.7 1504.8" stroke-width="2.9"/>
<path d="M450.8 1485.1 L465.6 1493.7" stroke-width="1.8"/>
<path d="M450.8 1488.8 L465.6 1497.4" stroke-width="1.8"/>
<path d="M454.5 1540.4 L470.5 1513.4" stroke-width="1.8"/>
<polygon class="w" points="133.5,1152.3 133.5,1231.3 136.7,1251.7 190.6,1282.8 193.8,1266.1 193.8,1187.1"/>
<polygon class="w" points="220.4,1202.4 220.4,1281.5 223.6,1301.8 277.3,1332.8 280.4,1316.2 280.4,1237.1"/>
<polygon class="w" points="301.7,1249.3 301.7,1328.4 304.8,1348.8 359,1380 362.1,1363.3 362.1,1284.3"/>
<polygon class="w" points="388.3,1299.4 388.3,1378.4 391.4,1398.8 444.7,1429.5 447.9,1412.8 447.9,1333.8"/>
<polygon class="w" points="193.8,1193.2 220.2,1177.9 217,1267.5 190.6,1282.8 193.8,1266.1"/>
<path d="M193.8 1266.1 L220.2 1250.8" stroke-width="2.9"/>
<path d="M192.2 1281.9 L220.2 1265.7" stroke-width="2.9"/>
<polygon class="w" points="280.4,1243.2 306.9,1227.9 303.7,1317.6 277.3,1332.8 280.4,1316.2"/>
<path d="M280.4 1316.2 L306.9 1300.9" stroke-width="2.9"/>
<path d="M278.9 1331.9 L306.9 1315.7" stroke-width="2.9"/>
<polygon class="w" points="362.1,1290.4 388.6,1275.1 385.4,1364.7 359,1380 362.1,1363.3"/>
<path d="M362.1 1363.3 L388.6 1348.1" stroke-width="2.9"/>
<path d="M360.5 1379.1 L388.6 1362.9" stroke-width="2.9"/>
<path d="M136.7 1251.7 L133.5 1231.3 L133.5 980 L135.6 975.7 L179 950.6 L183.9 950.4 L493.4 1129.1 L494.4 1131.5 L496 1133.7" stroke-width="3.9" stroke-linejoin="round"/>
<path d="M135.7 976.7 L447.9 1156.9" stroke-width="2.3"/>
<path d="M133.6 981.2 L445.3 1161.2" stroke-width="2.3"/>
<path d="M156.9 991.6 L205 963.8" stroke-width="4.4"/>
<path d="M169.8 997.9 L217.9 970.1" stroke-width="2.9"/>
<path d="M156.9 994.1 L169.8 1001.5" stroke-width="2.9"/>
<path d="M243.6 1041.7 L291.7 1013.9" stroke-width="4.4"/>
<path d="M256.5 1047.9 L304.6 1020.1" stroke-width="2.9"/>
<path d="M243.6 1044.1 L256.5 1051.6" stroke-width="2.9"/>
<path d="M324.6 1088.5 L372.8 1060.7" stroke-width="4.4"/>
<path d="M337.8 1094.9 L386 1067.1" stroke-width="2.9"/>
<path d="M324.6 1090.9 L337.8 1098.6" stroke-width="2.9"/>
<path d="M411.7 1138.8 L459.9 1111" stroke-width="4.4"/>
<path d="M425.2 1145.3 L473.3 1117.5" stroke-width="2.9"/>
<path d="M411.7 1141.2 L425.2 1149" stroke-width="2.9"/>
<path d="M496 1133 L496 1385 L492.8 1405.4 L451 1429.5" stroke-width="3.9"/>
<path d="M496 1385 L447.9 1412.8" stroke-width="2.9"/>
<path d="M447.9 1158.4 L496 1130.6" stroke-width="1.8"/>
<path d="M445.8 1160.9 L451 1160.2 L496 1134.3" stroke-width="1.8"/>
<path d="M445.3 1159.3 L445.3 1411.3" stroke-width="1.8"/>
<path d="M450.5 1160.5 L450.5 1411.3" stroke-width="1.8"/>
<path d="M133.5 1231.3 L193.8 1266.1" stroke-width="3.9"/>
<path d="M133.5 1231.3 L138.3 1250.8 L192.2 1281.9 L193.8 1266.1" stroke-width="3.9"/>
<path d="M220.4 1281.5 L280.4 1316.2" stroke-width="3.9"/>
<path d="M220.4 1281.5 L225.1 1300.9 L278.9 1331.9 L280.4 1316.2" stroke-width="3.9"/>
<path d="M301.7 1328.4 L362.1 1363.3" stroke-width="3.9"/>
<path d="M301.7 1328.4 L306.4 1347.8 L360.5 1379.1 L362.1 1363.3" stroke-width="3.9"/>
<path d="M388.3 1378.4 L447.9 1412.8" stroke-width="3.9"/>
<path d="M388.3 1378.4 L393 1397.8 L446.3 1428.6 L447.9 1412.8" stroke-width="3.9"/>
<path d="M193.8 1266.1 L193.8 1193.2" stroke-width="1.8"/>
<path d="M193.8 1193.2 L195.1 1190.6 L198 1190.7 L216.1 1201.2 L219.1 1204.4 L220.4 1208.5 L220.4 1281.5" stroke-width="3.9"/>
<path d="M190.1 1264 L190.1 1188 L191.7 1184.6 L194.8 1185.2" stroke-width="1.8"/>
<path d="M280.4 1316.2 L280.4 1243.2" stroke-width="1.8"/>
<path d="M280.4 1243.2 L281.8 1240.6 L284.7 1240.8 L297.4 1248.1 L300.3 1251.3 L301.7 1255.5 L301.7 1328.4" stroke-width="3.9"/>
<path d="M276.7 1314 L276.7 1238 L278.3 1234.7 L281.5 1235.3" stroke-width="1.8"/>
<path d="M362.1 1363.3 L362.1 1290.4" stroke-width="1.8"/>
<path d="M362.1 1290.4 L363.5 1287.8 L366.4 1287.9 L384 1298.1 L387 1301.3 L388.3 1305.5 L388.3 1378.4" stroke-width="3.9"/>
<path d="M358.4 1361.2 L358.4 1285.2 L360 1281.8 L363.2 1282.4" stroke-width="1.8"/>
<path d="M149.5 1017.9 L432 1181 L432 1210.4 L149.5 1047.2Z" stroke-width="2.9"/>
<path d="M159 1032 L432 1189.6" stroke-width="4.2"/>
<path d="M159 1043.4 L430.4 1200.1" stroke-width="1.8"/>
<path d="M159 1046 L430.4 1202.7" stroke-width="1.8"/>
<path d="M151.1 1021.3 L159 1032 L151.1 1045.7" stroke-width="2.9"/>
<path d="M174.9 1081.3 L177.7 1083.5 L180.1 1086.8 L181.7 1090.5 L182.3 1094.1 L182.3 1231.3 L181.7 1234.3 L180.1 1236.1 L177.7 1236.6 L174.9 1235.6 L151.8 1222.3 L149 1220 L146.6 1216.7 L145 1213 L144.4 1209.4 L144.4 1072.2 L145 1069.3 L146.6 1067.4 L149 1067 L151.8 1067.9Z" stroke-width="3.9"/>
<path d="M256.4 1128.3 L259.2 1130.6 L261.6 1133.8 L263.2 1137.5 L263.8 1141.1 L263.8 1201.8 L263.2 1204.8 L261.6 1206.6 L259.2 1207.1 L256.4 1206.1 L200.3 1173.7 L197.4 1171.4 L195 1168.2 L193.4 1164.5 L192.9 1160.9 L192.9 1100.2 L193.4 1097.3 L195 1095.4 L197.4 1094.9 L200.3 1095.9Z" stroke-width="3.9"/>
<path d="M228.4 1121.8 L253.7 1165.1 L253.7 1194.2 L202.9 1164.8 L202.9 1135.8Z" stroke-width="3.9"/>
<path d="M202.9 1135.8 L253.7 1165.1 L228.4 1179.6 L202.9 1135.8" stroke-width="3.9"/>
</g>
<path d="M302.4 1008.2 L303 1008.9 L303.9 1009.9 L304.9 1011 L306 1012.2 L307.2 1013.6 L308.5 1015.2 L309.7 1016.9 L311 1018.7 L312.3 1020.7 L313.7 1023 L315.1 1025.4 L316.6 1027.9 L318.1 1030.5 L319.5 1033.2 L320.9 1035.8 L322.1 1038.4 L323.2 1041 L324.3 1043.7 L325.3 1046.5 L326.2 1049.3 L327.1 1052 L327.9 1054.7 L328.7 1057.1 L329.5 1059.3" stroke-width="1.8"/>
<path d="M334.4 1071.6 L334.9 1073.4 L335.4 1075.3 L335.9 1077.2 L336.3 1079.2 L336.8 1081.3 L337.2 1083.6 L337.7 1086.1 L338.1 1088.9 L338.6 1092 L339.1 1095.4 L339.6 1099 L340.2 1102.8 L340.7 1106.7 L341.1 1110.6 L341.3 1114.4 L341.5 1118.2 L341.5 1121.9 L341.4 1125.6 L341.3 1129.3 L341 1133 L340.6 1136.7 L340.2 1140.4 L339.7 1144.1 L339.2 1147.8 L338.6 1151.5 L337.9 1155.2 L337.1 1158.8 L336.2 1162.5 L335.3 1166.2 L334.4 1169.9 L333.4 1173.6 L332.3 1177.4 L331.2 1181.4 L329.9 1185.5 L328.6 1189.8 L327.3 1194.1 L326 1198.2 L324.6 1202.1 L323.3 1205.6 L322.1 1208.7 L320.9 1211.2" stroke-width="1.8"/>
<path d="M314.5 1220.7 L313.5 1222.2 L312.5 1223.8 L311.6 1225.4 L310.6 1227 L309.7 1228.6 L308.8 1230.2 L307.9 1231.7 L307 1233.1 L306.1 1234.5 L305.2 1235.7" stroke-width="1.8"/>
<path d="M298.7 1243.7 L297.6 1245.5 L296.5 1247.5 L295.3 1249.7 L294.1 1252 L292.9 1254.4 L291.6 1256.9 L290.3 1259.5 L288.9 1262.2 L287.4 1265 L285.9 1268.1 L284.2 1271.3 L282.5 1274.6 L280.9 1277.8 L279.3 1281 L277.9 1284 L276.6 1286.8 L275.5 1289.3 L274.6 1291.5 L273.8 1293.6 L273 1295.6 L272.4 1297.5 L271.7 1299.5 L271.1 1301.7 L270.4 1304 L269.7 1306.5 L269 1309.1 L268.3 1311.9 L267.7 1314.6 L267.1 1317.5 L266.5 1320.4 L266 1323.3 L265.5 1326.2 L265.1 1329.1" stroke-width="1.8"/>
<path d="M263.9 1341 L263.7 1344.2 L263.6 1347.4 L263.6 1350.8 L263.6 1354.5 L263.8 1358.5" stroke-width="1.8"/>
<path d="M264.8 1375 L265.2 1378.5 L265.5 1381.6 L265.9 1384.1 L266.2 1386.1 L266.7 1387.8 L267.1 1389.2 L267.6 1390.6 L268.1 1392 L268.6 1393.4 L269.2 1395.2 L269.8 1397.1 L270.5 1399.1 L271.3 1401.1 L272 1403.1 L272.8 1405.2 L273.6 1407.5 L274.5 1409.9 L275.3 1412.4 L276.2 1415.2 L277.1 1418.3 L278 1421.5 L278.9 1424.8 L279.9 1428.2 L280.8 1431.4 L281.8 1434.3 L282.7 1437 L283.7 1439.4 L284.7 1441.8 L285.8 1444 L286.8 1446 L287.8 1447.9 L288.7 1449.5 L289.4 1450.9 L290 1452" stroke-width="1.8"/>
<path d="M346 1042.6 L346.7 1044.3 L347.6 1046.5 L348.7 1049.2 L349.9 1052.2 L351.2 1055.3 L352.5 1058.4 L353.6 1061.4 L354.6 1064.2 L355.5 1066.7 L356.3 1069.2 L357.1 1071.6 L357.8 1074 L358.5 1076.4 L359.1 1078.9 L359.7 1081.3 L360.2 1083.9 L360.7 1086.5 L361.1 1089.1 L361.4 1091.8 L361.7 1094.5 L362 1097.2 L362.2 1100.1 L362.4 1103 L362.6 1106 L362.8 1109.2 L363 1112.5 L363.1 1115.9 L363.3 1119.4 L363.3 1123 L363.4 1126.5 L363.4 1129.9 L363.3 1133.2 L363.2 1136.4 L363 1139.5 L362.8 1142.6 L362.5 1145.7 L362.1 1148.7 L361.8 1151.7 L361.3 1154.7 L360.8 1157.8 L360.2 1160.9 L359.6 1164 L358.9 1167.1 L358.1 1170.2 L357.3 1173.3 L356.4 1176.4 L355.5 1179.4 L354.6 1182.4 L353.6 1185.3 L352.6 1188.3 L351.5 1191.2 L350.4 1194.1 L349.3 1196.9 L348.2 1199.6 L347.1 1202.2 L346 1204.7 L345 1207 L344 1209.2 L343.1 1211.3 L342.1 1213.2 L341.2 1215.2 L340.2 1217.1 L339.1 1219 L338 1221 L336.7 1223 L335.4 1225.1 L333.9 1227.2 L332.5 1229.3 L331 1231.3 L329.6 1233.3 L328.2 1235.2 L327 1237 L325.9 1238.7" stroke-width="1.8"/>
<path d="M320.6 1247.3 L319.7 1248.7 L318.7 1250.2 L317.7 1251.6 L316.6 1253.1 L315.6 1254.6 L314.6 1256 L313.5 1257.5 L312.6 1258.9 L311.7 1260.4 L310.9 1261.7" stroke-width="1.8"/>
<path d="M306.1 1272 L304.9 1274.6 L303.6 1277.7 L302.1 1281 L300.6 1284.6 L299 1288.3 L297.6 1292 L296.2 1295.6 L295 1299.1 L294 1302.5 L293 1305.8 L292.1 1309.1 L291.3 1312.4 L290.6 1315.8 L290 1319.2 L289.4 1322.6 L288.9 1326.2 L288.5 1329.9 L288.1 1333.8 L287.9 1337.8 L287.7 1341.8 L287.6 1345.7 L287.5 1349.6 L287.5 1353.4 L287.6 1357 L287.7 1360.4 L287.9 1363.6 L288.2 1366.7 L288.5 1369.7 L288.9 1372.6 L289.3 1375.6 L289.7 1378.6 L290.1 1381.6 L290.5 1384.8 L290.9 1388.1 L291.3 1391.4 L291.8 1394.7 L292.3 1397.9 L292.8 1401 L293.3 1403.8 L293.8 1406.3 L294.3 1408.4 L294.8 1410 L295.3 1411.4 L295.9 1412.7 L296.4 1413.9 L297.1 1415.2 L297.8 1416.7 L298.7 1418.6 L299.7 1420.8 L300.7 1423.3 L301.9 1426 L303.1 1428.8 L304.4 1431.7 L305.8 1434.5 L307.2 1437.3 L308.6 1440 L310.2 1442.7 L312 1445.6 L314 1448.5 L315.9 1451.3 L317.8 1454 L319.5 1456.4 L320.9 1458.5 L322 1460" stroke-width="1.8"/>
<circle cx="564.2" cy="1275" r="20" stroke-width="1.5"/>
<text class="t" x="565" y="1285" font-size="27.1" stroke-width="0.9" text-anchor="middle">1</text>
<circle cx="564.2" cy="1358" r="20" stroke-width="1.5"/>
<text class="t" x="564.5" y="1368" font-size="27.1" stroke-width="0.9" text-anchor="middle">2</text>
<circle class="f" cx="496.4" cy="1220.2" r="6"/>
<circle class="f" cx="477" cy="1482.4" r="6"/>
<line x1="496.4" y1="1220.2" x2="549.5" y2="1261.5" stroke-width="1.5"/>
<line x1="477" y1="1482.4" x2="551" y2="1374.5" stroke-width="1.5"/>
</svg>
</body></html>
